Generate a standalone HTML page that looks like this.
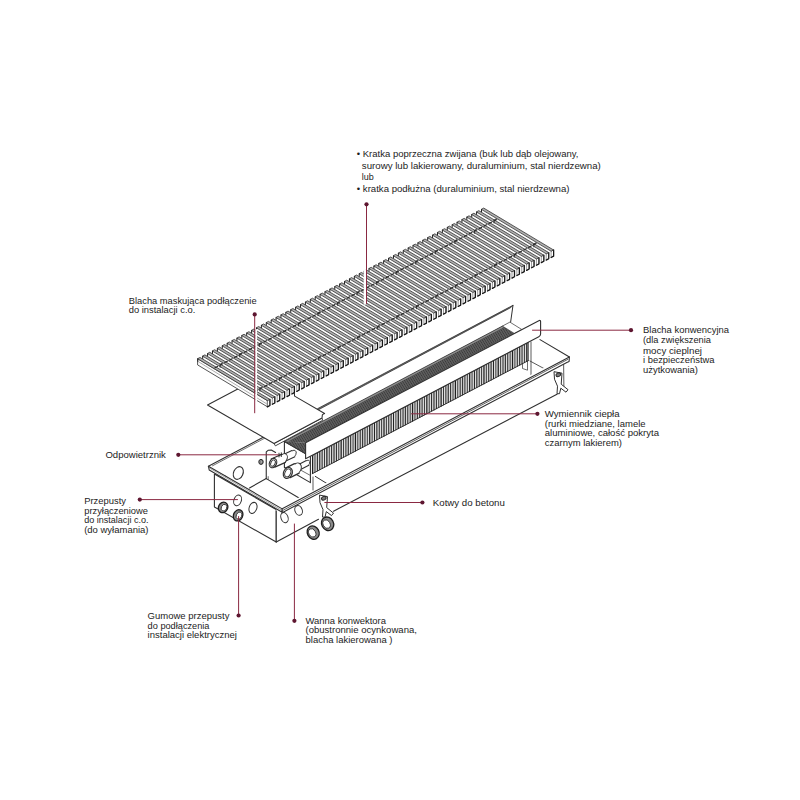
<!DOCTYPE html>
<html><head><meta charset="utf-8"><title>Konwektor kanałowy</title>
<style>
html,body{margin:0;padding:0;background:#fff;}
body{width:800px;height:800px;overflow:hidden;font-family:"Liberation Sans",sans-serif;}
svg{display:block;}
svg text{font-family:"Liberation Sans",sans-serif;fill:#1c1c1c;}
</style></head><body>
<svg width="800" height="800" viewBox="0 0 800 800">
<g id="trough">
<line x1="208.40" y1="466.20" x2="278.40" y2="429.17" stroke="#303030" stroke-width="1.1" stroke-linecap="round" />
<line x1="212.50" y1="465.80" x2="280.00" y2="430.09" stroke="#303030" stroke-width="0.7" stroke-linecap="round" />
<ellipse cx="238.30" cy="473.00" rx="4.70" ry="6.60" fill="#fff" stroke="#303030" stroke-width="1.1" transform="rotate(24.0 238.30 473.00)"/>
<path d="M221.5 478.2 q2.2 -3.6 5.2 -1.2" fill="none" stroke="#222" stroke-width="1.3"/>
<polyline points="266.25,478.60 266.25,451.90 268.10,450.30 271.30,450.00 275.60,452.40" fill="none" stroke="#303030" stroke-width="1.1" stroke-linejoin="round" stroke-linecap="round" />
<line x1="266.25" y1="478.60" x2="300.30" y2="498.70" stroke="#303030" stroke-width="1.1" stroke-linecap="round" />
<line x1="315.30" y1="476.40" x2="328.00" y2="484.20" stroke="#303030" stroke-width="1.0" stroke-linecap="round" />
<line x1="266.25" y1="478.60" x2="249.50" y2="488.00" stroke="#303030" stroke-width="1.1" stroke-linecap="round" />
<line x1="268.20" y1="476.60" x2="268.20" y2="479.40" stroke="#303030" stroke-width="0.7" stroke-linecap="round" />
<ellipse cx="261.00" cy="461.90" rx="2.20" ry="2.50" fill="#999" stroke="#222" stroke-width="1.0"/>
<ellipse cx="261.20" cy="461.90" rx="0.80" ry="1.00" fill="#fff" stroke="#222" stroke-width="0.4"/>
<line x1="531.00" y1="342.00" x2="531.00" y2="376.00" stroke="#303030" stroke-width="0.8" stroke-linecap="round" />
<line x1="530.00" y1="361.00" x2="545.20" y2="369.20" stroke="#303030" stroke-width="0.8" stroke-linecap="round" />
<polyline points="522.50,363.50 522.50,368.50 527.50,370.20 527.50,360.50" fill="none" stroke="#303030" stroke-width="0.7" stroke-linejoin="round" stroke-linecap="round" />
<polygon points="214.40,474.00 276.25,509.60 276.25,542.00 214.40,506.90" fill="#fff" stroke="#303030" stroke-width="1.1" stroke-linejoin="round" />
<polygon points="276.25,509.60 563.50,357.50 563.50,390.00 557.00,394.20 276.25,542.00" fill="#fff" stroke="none" stroke-width="0.7" stroke-linejoin="round" />
<line x1="276.25" y1="542.00" x2="318.50" y2="519.30" stroke="#303030" stroke-width="1.1" stroke-linecap="round" />
<line x1="333.50" y1="511.20" x2="557.00" y2="394.20" stroke="#303030" stroke-width="1.1" stroke-linecap="round" />
<line x1="276.25" y1="511.00" x2="276.25" y2="542.00" stroke="#303030" stroke-width="1.1" stroke-linecap="round" />
<line x1="563.60" y1="362.00" x2="563.90" y2="388.00" stroke="#303030" stroke-width="0.8" stroke-linecap="round" />
<polygon points="208.40,466.20 282.20,508.86 282.20,512.26 209.20,470.00" fill="#fff" stroke="#303030" stroke-width="1.1" stroke-linejoin="round" />
<line x1="209.20" y1="467.90" x2="282.20" y2="510.56" stroke="#6a6a6a" stroke-width="0.6" stroke-linecap="round" />
<polygon points="282.20,508.86 569.40,356.93 569.10,361.53 566.80,362.53 282.20,512.66" fill="#fff" stroke="#303030" stroke-width="1.1" stroke-linejoin="round" />
<line x1="283.00" y1="510.33" x2="567.90" y2="359.33" stroke="#303030" stroke-width="0.75" stroke-linecap="round" />
<line x1="569.40" y1="356.93" x2="540.00" y2="339.60" stroke="#303030" stroke-width="1.1" stroke-linecap="round" />
<ellipse cx="237.60" cy="500.40" rx="3.70" ry="5.50" fill="#fff" stroke="#303030" stroke-width="1.0" transform="rotate(20.0 237.60 500.40)"/>
<ellipse cx="253.00" cy="507.90" rx="3.80" ry="5.70" fill="#fff" stroke="#303030" stroke-width="1.0" transform="rotate(20.0 253.00 507.90)"/>
<ellipse cx="223.10" cy="507.40" rx="4.60" ry="5.40" fill="#8a8a8a" stroke="#1e1e1e" stroke-width="1.3" transform="rotate(25.0 223.10 507.40)"/><ellipse cx="224.00" cy="507.70" rx="2.67" ry="3.46" fill="#fff" stroke="#2a2a2a" stroke-width="0.8" transform="rotate(25.0 224.00 507.70)"/>
<ellipse cx="238.10" cy="515.30" rx="4.60" ry="5.80" fill="#8a8a8a" stroke="#1e1e1e" stroke-width="1.3" transform="rotate(25.0 238.10 515.30)"/><ellipse cx="239.00" cy="515.60" rx="2.67" ry="3.71" fill="#fff" stroke="#2a2a2a" stroke-width="0.8" transform="rotate(25.0 239.00 515.60)"/>
<ellipse cx="284.50" cy="517.60" rx="3.50" ry="5.20" fill="#fff" stroke="#303030" stroke-width="1.0" transform="rotate(-20.0 284.50 517.60)"/>
<ellipse cx="298.60" cy="510.40" rx="3.60" ry="5.00" fill="#fff" stroke="#303030" stroke-width="1.0" transform="rotate(-20.0 298.60 510.40)"/>
<ellipse cx="313.20" cy="532.60" rx="5.80" ry="6.90" fill="#8a8a8a" stroke="#1e1e1e" stroke-width="1.3" transform="rotate(-28.0 313.20 532.60)"/><ellipse cx="312.20" cy="532.90" rx="3.36" ry="4.42" fill="#fff" stroke="#2a2a2a" stroke-width="0.8" transform="rotate(-28.0 312.20 532.90)"/>
<ellipse cx="327.60" cy="523.80" rx="5.90" ry="7.00" fill="#8a8a8a" stroke="#1e1e1e" stroke-width="1.3" transform="rotate(-28.0 327.60 523.80)"/><ellipse cx="326.60" cy="524.10" rx="3.42" ry="4.48" fill="#fff" stroke="#2a2a2a" stroke-width="0.8" transform="rotate(-28.0 326.60 524.10)"/>
<polygon points="319.50,495.10 327.50,496.60 326.70,507.60 333.50,513.10 331.50,515.60 326.30,511.60 325.00,517.10 322.50,517.10 323.00,509.60 320.00,502.60" fill="#fff" stroke="#303030" stroke-width="1.0" stroke-linejoin="round" /><ellipse cx="323.80" cy="498.20" rx="2.40" ry="1.80" fill="#777" stroke="#222" stroke-width="0.9" transform="rotate(-25.0 323.80 498.20)"/>
<polygon points="554.00,371.70 562.00,373.20 561.20,384.20 568.00,389.70 566.00,392.20 560.80,388.20 559.50,393.70 557.00,393.70 557.50,386.20 554.50,379.20" fill="#fff" stroke="#303030" stroke-width="1.0" stroke-linejoin="round" /><ellipse cx="558.30" cy="374.80" rx="2.40" ry="1.80" fill="#777" stroke="#222" stroke-width="0.9" transform="rotate(-25.0 558.30 374.80)"/>
</g>
<g id="exch">
<polygon points="317.50,408.70 513.00,305.28 510.60,322.28 315.10,425.70" fill="#fff" stroke="none" stroke-width="0.7" stroke-linejoin="round" />
<line x1="513.00" y1="305.28" x2="510.60" y2="322.28" stroke="#303030" stroke-width="1.0" stroke-linecap="round" />
<polygon points="317.50,408.70 513.00,305.28 510.80,307.58 315.90,411.10" fill="#6e6e6e" stroke="#2a2a2a" stroke-width="0.75" stroke-linejoin="round" />
<clipPath id="cpTop"><polygon points="284.40,441.40 502.40,326.08 514.40,333.49 305.60,442.80"/></clipPath>
<polygon points="284.40,441.40 502.40,326.08 514.40,333.49 305.60,442.80" fill="#909090" stroke="none" stroke-width="0.7" stroke-linejoin="round" />
<g clip-path="url(#cpTop)">
<line x1="282.40" y1="442.46" x2="516.40" y2="318.67" stroke="#262626" stroke-width="0.8" stroke-linecap="round" />
<line x1="283.60" y1="443.15" x2="517.60" y2="319.37" stroke="#262626" stroke-width="0.8" stroke-linecap="round" />
<line x1="284.80" y1="443.85" x2="518.80" y2="320.06" stroke="#262626" stroke-width="0.8" stroke-linecap="round" />
<line x1="286.00" y1="444.54" x2="520.00" y2="320.75" stroke="#262626" stroke-width="0.8" stroke-linecap="round" />
<line x1="287.20" y1="445.23" x2="521.20" y2="321.45" stroke="#262626" stroke-width="0.8" stroke-linecap="round" />
<line x1="288.40" y1="445.93" x2="522.40" y2="322.14" stroke="#262626" stroke-width="0.8" stroke-linecap="round" />
<line x1="289.60" y1="446.62" x2="523.60" y2="322.83" stroke="#262626" stroke-width="0.8" stroke-linecap="round" />
<line x1="290.80" y1="447.31" x2="524.80" y2="323.53" stroke="#262626" stroke-width="0.8" stroke-linecap="round" />
<line x1="292.00" y1="448.01" x2="526.00" y2="324.22" stroke="#262626" stroke-width="0.8" stroke-linecap="round" />
<line x1="293.20" y1="448.70" x2="527.20" y2="324.91" stroke="#262626" stroke-width="0.8" stroke-linecap="round" />
<line x1="294.40" y1="449.39" x2="528.40" y2="325.61" stroke="#262626" stroke-width="0.8" stroke-linecap="round" />
<line x1="295.60" y1="450.09" x2="529.60" y2="326.30" stroke="#262626" stroke-width="0.8" stroke-linecap="round" />
<line x1="296.80" y1="450.78" x2="530.80" y2="327.00" stroke="#262626" stroke-width="0.8" stroke-linecap="round" />
</g>
<line x1="285.90" y1="441.60" x2="502.40" y2="327.08" stroke="#8e8e8e" stroke-width="1.5" stroke-linecap="round" stroke-linecap="butt"/>
<polyline points="284.40,441.40 502.40,326.08" fill="none" stroke="#333" stroke-width="0.7" stroke-linejoin="round" stroke-linecap="round" />
<polygon points="502.40,326.08 509.90,322.11 521.90,329.57 514.40,333.49" fill="#fff" stroke="#303030" stroke-width="0.7" stroke-linejoin="round" />
<polygon points="284.40,441.40 310.40,456.43 310.40,482.63 284.40,467.60" fill="#fff" stroke="#303030" stroke-width="1.1" stroke-linejoin="round" />
<polygon points="284.40,441.40 305.60,442.80 305.60,453.65" fill="#909090" stroke="none" stroke-width="0.7" stroke-linejoin="round" />
<clipPath id="cpTri"><polygon points="284.40,441.40 305.60,442.80 305.60,453.65"/></clipPath>
<g clip-path="url(#cpTri)">
<line x1="282.40" y1="442.46" x2="314.40" y2="425.53" stroke="#262626" stroke-width="0.8" stroke-linecap="round" />
<line x1="283.60" y1="443.15" x2="315.60" y2="426.22" stroke="#262626" stroke-width="0.8" stroke-linecap="round" />
<line x1="284.80" y1="443.85" x2="316.80" y2="426.92" stroke="#262626" stroke-width="0.8" stroke-linecap="round" />
<line x1="286.00" y1="444.54" x2="318.00" y2="427.61" stroke="#262626" stroke-width="0.8" stroke-linecap="round" />
<line x1="287.20" y1="445.23" x2="319.20" y2="428.30" stroke="#262626" stroke-width="0.8" stroke-linecap="round" />
<line x1="288.40" y1="445.93" x2="320.40" y2="429.00" stroke="#262626" stroke-width="0.8" stroke-linecap="round" />
<line x1="289.60" y1="446.62" x2="321.60" y2="429.69" stroke="#262626" stroke-width="0.8" stroke-linecap="round" />
<line x1="290.80" y1="447.31" x2="322.80" y2="430.39" stroke="#262626" stroke-width="0.8" stroke-linecap="round" />
<line x1="292.00" y1="448.01" x2="324.00" y2="431.08" stroke="#262626" stroke-width="0.8" stroke-linecap="round" />
<line x1="293.20" y1="448.70" x2="325.20" y2="431.77" stroke="#262626" stroke-width="0.8" stroke-linecap="round" />
<line x1="294.40" y1="449.39" x2="326.40" y2="432.47" stroke="#262626" stroke-width="0.8" stroke-linecap="round" />
<line x1="295.60" y1="450.09" x2="327.60" y2="433.16" stroke="#262626" stroke-width="0.8" stroke-linecap="round" />
<line x1="296.80" y1="450.78" x2="328.80" y2="433.85" stroke="#262626" stroke-width="0.8" stroke-linecap="round" />
<line x1="298.00" y1="451.47" x2="330.00" y2="434.55" stroke="#262626" stroke-width="0.8" stroke-linecap="round" />
<line x1="299.20" y1="452.17" x2="331.20" y2="435.24" stroke="#262626" stroke-width="0.8" stroke-linecap="round" />
<line x1="300.40" y1="452.86" x2="332.40" y2="435.93" stroke="#262626" stroke-width="0.8" stroke-linecap="round" />
<line x1="301.60" y1="453.56" x2="333.60" y2="436.63" stroke="#262626" stroke-width="0.8" stroke-linecap="round" />
<line x1="302.80" y1="454.25" x2="334.80" y2="437.32" stroke="#262626" stroke-width="0.8" stroke-linecap="round" />
</g>
<line x1="284.40" y1="441.40" x2="310.40" y2="456.43" stroke="#303030" stroke-width="0.9" stroke-linecap="round" />
<polyline points="313.00,477.00 313.00,490.00" fill="none" stroke="#303030" stroke-width="0.8" stroke-linejoin="round" stroke-linecap="round" />
<polyline points="300.50,470.00 309.60,475.00" fill="none" stroke="#303030" stroke-width="0.7" stroke-linejoin="round" stroke-linecap="round" />
<polygon points="312.20,455.34 528.20,342.27 528.20,360.67 312.20,473.74" fill="#dedede" stroke="none" stroke-width="0.7" stroke-linejoin="round" />
<line x1="312.60" y1="455.34" x2="312.60" y2="473.34" stroke="#1e1e1e" stroke-width="1.25" stroke-linecap="round" stroke-linecap="butt"/>
<line x1="314.98" y1="454.09" x2="314.98" y2="472.09" stroke="#383838" stroke-width="1.0" stroke-linecap="round" stroke-linecap="butt"/>
<line x1="317.36" y1="452.84" x2="317.36" y2="470.84" stroke="#1e1e1e" stroke-width="1.0" stroke-linecap="round" stroke-linecap="butt"/>
<line x1="319.74" y1="451.60" x2="319.74" y2="469.60" stroke="#383838" stroke-width="1.25" stroke-linecap="round" stroke-linecap="butt"/>
<line x1="322.12" y1="450.35" x2="322.12" y2="468.35" stroke="#1e1e1e" stroke-width="1.0" stroke-linecap="round" stroke-linecap="butt"/>
<line x1="324.50" y1="449.11" x2="324.50" y2="467.11" stroke="#383838" stroke-width="1.0" stroke-linecap="round" stroke-linecap="butt"/>
<line x1="326.88" y1="447.86" x2="326.88" y2="465.86" stroke="#1e1e1e" stroke-width="1.25" stroke-linecap="round" stroke-linecap="butt"/>
<line x1="329.26" y1="446.61" x2="329.26" y2="464.61" stroke="#383838" stroke-width="1.0" stroke-linecap="round" stroke-linecap="butt"/>
<line x1="331.64" y1="445.37" x2="331.64" y2="463.37" stroke="#1e1e1e" stroke-width="1.0" stroke-linecap="round" stroke-linecap="butt"/>
<line x1="334.02" y1="444.12" x2="334.02" y2="462.12" stroke="#383838" stroke-width="1.25" stroke-linecap="round" stroke-linecap="butt"/>
<line x1="336.40" y1="442.88" x2="336.40" y2="460.88" stroke="#1e1e1e" stroke-width="1.0" stroke-linecap="round" stroke-linecap="butt"/>
<line x1="338.78" y1="441.63" x2="338.78" y2="459.63" stroke="#383838" stroke-width="1.0" stroke-linecap="round" stroke-linecap="butt"/>
<line x1="341.16" y1="440.38" x2="341.16" y2="458.38" stroke="#1e1e1e" stroke-width="1.25" stroke-linecap="round" stroke-linecap="butt"/>
<line x1="343.54" y1="439.14" x2="343.54" y2="457.14" stroke="#383838" stroke-width="1.0" stroke-linecap="round" stroke-linecap="butt"/>
<line x1="345.92" y1="437.89" x2="345.92" y2="455.89" stroke="#1e1e1e" stroke-width="1.0" stroke-linecap="round" stroke-linecap="butt"/>
<line x1="348.30" y1="436.65" x2="348.30" y2="454.65" stroke="#383838" stroke-width="1.25" stroke-linecap="round" stroke-linecap="butt"/>
<line x1="350.68" y1="435.40" x2="350.68" y2="453.40" stroke="#1e1e1e" stroke-width="1.0" stroke-linecap="round" stroke-linecap="butt"/>
<line x1="353.06" y1="434.15" x2="353.06" y2="452.15" stroke="#383838" stroke-width="1.0" stroke-linecap="round" stroke-linecap="butt"/>
<line x1="355.44" y1="432.91" x2="355.44" y2="450.91" stroke="#1e1e1e" stroke-width="1.25" stroke-linecap="round" stroke-linecap="butt"/>
<line x1="357.82" y1="431.66" x2="357.82" y2="449.66" stroke="#383838" stroke-width="1.0" stroke-linecap="round" stroke-linecap="butt"/>
<line x1="360.20" y1="430.42" x2="360.20" y2="448.42" stroke="#1e1e1e" stroke-width="1.0" stroke-linecap="round" stroke-linecap="butt"/>
<line x1="362.58" y1="429.17" x2="362.58" y2="447.17" stroke="#383838" stroke-width="1.25" stroke-linecap="round" stroke-linecap="butt"/>
<line x1="364.96" y1="427.93" x2="364.96" y2="445.93" stroke="#1e1e1e" stroke-width="1.0" stroke-linecap="round" stroke-linecap="butt"/>
<line x1="367.34" y1="426.68" x2="367.34" y2="444.68" stroke="#383838" stroke-width="1.0" stroke-linecap="round" stroke-linecap="butt"/>
<line x1="369.72" y1="425.43" x2="369.72" y2="443.43" stroke="#1e1e1e" stroke-width="1.25" stroke-linecap="round" stroke-linecap="butt"/>
<line x1="372.10" y1="424.19" x2="372.10" y2="442.19" stroke="#383838" stroke-width="1.0" stroke-linecap="round" stroke-linecap="butt"/>
<line x1="374.48" y1="422.94" x2="374.48" y2="440.94" stroke="#1e1e1e" stroke-width="1.0" stroke-linecap="round" stroke-linecap="butt"/>
<line x1="376.86" y1="421.70" x2="376.86" y2="439.70" stroke="#383838" stroke-width="1.25" stroke-linecap="round" stroke-linecap="butt"/>
<line x1="379.24" y1="420.45" x2="379.24" y2="438.45" stroke="#1e1e1e" stroke-width="1.0" stroke-linecap="round" stroke-linecap="butt"/>
<line x1="381.62" y1="419.20" x2="381.62" y2="437.20" stroke="#383838" stroke-width="1.0" stroke-linecap="round" stroke-linecap="butt"/>
<line x1="384.00" y1="417.96" x2="384.00" y2="435.96" stroke="#1e1e1e" stroke-width="1.25" stroke-linecap="round" stroke-linecap="butt"/>
<line x1="386.38" y1="416.71" x2="386.38" y2="434.71" stroke="#383838" stroke-width="1.0" stroke-linecap="round" stroke-linecap="butt"/>
<line x1="388.76" y1="415.47" x2="388.76" y2="433.47" stroke="#1e1e1e" stroke-width="1.0" stroke-linecap="round" stroke-linecap="butt"/>
<line x1="391.14" y1="414.22" x2="391.14" y2="432.22" stroke="#383838" stroke-width="1.25" stroke-linecap="round" stroke-linecap="butt"/>
<line x1="393.52" y1="412.97" x2="393.52" y2="430.97" stroke="#1e1e1e" stroke-width="1.0" stroke-linecap="round" stroke-linecap="butt"/>
<line x1="395.90" y1="411.73" x2="395.90" y2="429.73" stroke="#383838" stroke-width="1.0" stroke-linecap="round" stroke-linecap="butt"/>
<line x1="398.28" y1="410.48" x2="398.28" y2="428.48" stroke="#1e1e1e" stroke-width="1.25" stroke-linecap="round" stroke-linecap="butt"/>
<line x1="400.66" y1="409.24" x2="400.66" y2="427.24" stroke="#383838" stroke-width="1.0" stroke-linecap="round" stroke-linecap="butt"/>
<line x1="403.04" y1="407.99" x2="403.04" y2="425.99" stroke="#1e1e1e" stroke-width="1.0" stroke-linecap="round" stroke-linecap="butt"/>
<line x1="405.42" y1="406.74" x2="405.42" y2="424.74" stroke="#383838" stroke-width="1.25" stroke-linecap="round" stroke-linecap="butt"/>
<line x1="407.80" y1="405.50" x2="407.80" y2="423.50" stroke="#1e1e1e" stroke-width="1.0" stroke-linecap="round" stroke-linecap="butt"/>
<line x1="410.18" y1="404.25" x2="410.18" y2="422.25" stroke="#383838" stroke-width="1.0" stroke-linecap="round" stroke-linecap="butt"/>
<line x1="412.56" y1="403.01" x2="412.56" y2="421.01" stroke="#1e1e1e" stroke-width="1.25" stroke-linecap="round" stroke-linecap="butt"/>
<line x1="414.94" y1="401.76" x2="414.94" y2="419.76" stroke="#383838" stroke-width="1.0" stroke-linecap="round" stroke-linecap="butt"/>
<line x1="417.32" y1="400.51" x2="417.32" y2="418.51" stroke="#1e1e1e" stroke-width="1.0" stroke-linecap="round" stroke-linecap="butt"/>
<line x1="419.70" y1="399.27" x2="419.70" y2="417.27" stroke="#383838" stroke-width="1.25" stroke-linecap="round" stroke-linecap="butt"/>
<line x1="422.08" y1="398.02" x2="422.08" y2="416.02" stroke="#1e1e1e" stroke-width="1.0" stroke-linecap="round" stroke-linecap="butt"/>
<line x1="424.46" y1="396.78" x2="424.46" y2="414.78" stroke="#383838" stroke-width="1.0" stroke-linecap="round" stroke-linecap="butt"/>
<line x1="426.84" y1="395.53" x2="426.84" y2="413.53" stroke="#1e1e1e" stroke-width="1.25" stroke-linecap="round" stroke-linecap="butt"/>
<line x1="429.22" y1="394.28" x2="429.22" y2="412.28" stroke="#383838" stroke-width="1.0" stroke-linecap="round" stroke-linecap="butt"/>
<line x1="431.60" y1="393.04" x2="431.60" y2="411.04" stroke="#1e1e1e" stroke-width="1.0" stroke-linecap="round" stroke-linecap="butt"/>
<line x1="433.98" y1="391.79" x2="433.98" y2="409.79" stroke="#383838" stroke-width="1.25" stroke-linecap="round" stroke-linecap="butt"/>
<line x1="436.36" y1="390.55" x2="436.36" y2="408.55" stroke="#1e1e1e" stroke-width="1.0" stroke-linecap="round" stroke-linecap="butt"/>
<line x1="438.74" y1="389.30" x2="438.74" y2="407.30" stroke="#383838" stroke-width="1.0" stroke-linecap="round" stroke-linecap="butt"/>
<line x1="441.12" y1="388.06" x2="441.12" y2="406.06" stroke="#1e1e1e" stroke-width="1.25" stroke-linecap="round" stroke-linecap="butt"/>
<line x1="443.50" y1="386.81" x2="443.50" y2="404.81" stroke="#383838" stroke-width="1.0" stroke-linecap="round" stroke-linecap="butt"/>
<line x1="445.88" y1="385.56" x2="445.88" y2="403.56" stroke="#1e1e1e" stroke-width="1.0" stroke-linecap="round" stroke-linecap="butt"/>
<line x1="448.26" y1="384.32" x2="448.26" y2="402.32" stroke="#383838" stroke-width="1.25" stroke-linecap="round" stroke-linecap="butt"/>
<line x1="450.64" y1="383.07" x2="450.64" y2="401.07" stroke="#1e1e1e" stroke-width="1.0" stroke-linecap="round" stroke-linecap="butt"/>
<line x1="453.02" y1="381.83" x2="453.02" y2="399.83" stroke="#383838" stroke-width="1.0" stroke-linecap="round" stroke-linecap="butt"/>
<line x1="455.40" y1="380.58" x2="455.40" y2="398.58" stroke="#1e1e1e" stroke-width="1.25" stroke-linecap="round" stroke-linecap="butt"/>
<line x1="457.78" y1="379.33" x2="457.78" y2="397.33" stroke="#383838" stroke-width="1.0" stroke-linecap="round" stroke-linecap="butt"/>
<line x1="460.16" y1="378.09" x2="460.16" y2="396.09" stroke="#1e1e1e" stroke-width="1.0" stroke-linecap="round" stroke-linecap="butt"/>
<line x1="462.54" y1="376.84" x2="462.54" y2="394.84" stroke="#383838" stroke-width="1.25" stroke-linecap="round" stroke-linecap="butt"/>
<line x1="464.92" y1="375.60" x2="464.92" y2="393.60" stroke="#1e1e1e" stroke-width="1.0" stroke-linecap="round" stroke-linecap="butt"/>
<line x1="467.30" y1="374.35" x2="467.30" y2="392.35" stroke="#383838" stroke-width="1.0" stroke-linecap="round" stroke-linecap="butt"/>
<line x1="469.68" y1="373.10" x2="469.68" y2="391.10" stroke="#1e1e1e" stroke-width="1.25" stroke-linecap="round" stroke-linecap="butt"/>
<line x1="472.06" y1="371.86" x2="472.06" y2="389.86" stroke="#383838" stroke-width="1.0" stroke-linecap="round" stroke-linecap="butt"/>
<line x1="474.44" y1="370.61" x2="474.44" y2="388.61" stroke="#1e1e1e" stroke-width="1.0" stroke-linecap="round" stroke-linecap="butt"/>
<line x1="476.82" y1="369.37" x2="476.82" y2="387.37" stroke="#383838" stroke-width="1.25" stroke-linecap="round" stroke-linecap="butt"/>
<line x1="479.20" y1="368.12" x2="479.20" y2="386.12" stroke="#1e1e1e" stroke-width="1.0" stroke-linecap="round" stroke-linecap="butt"/>
<line x1="481.58" y1="366.87" x2="481.58" y2="384.87" stroke="#383838" stroke-width="1.0" stroke-linecap="round" stroke-linecap="butt"/>
<line x1="483.96" y1="365.63" x2="483.96" y2="383.63" stroke="#1e1e1e" stroke-width="1.25" stroke-linecap="round" stroke-linecap="butt"/>
<line x1="486.34" y1="364.38" x2="486.34" y2="382.38" stroke="#383838" stroke-width="1.0" stroke-linecap="round" stroke-linecap="butt"/>
<line x1="488.72" y1="363.14" x2="488.72" y2="381.14" stroke="#1e1e1e" stroke-width="1.0" stroke-linecap="round" stroke-linecap="butt"/>
<line x1="491.10" y1="361.89" x2="491.10" y2="379.89" stroke="#383838" stroke-width="1.25" stroke-linecap="round" stroke-linecap="butt"/>
<line x1="493.48" y1="360.64" x2="493.48" y2="378.64" stroke="#1e1e1e" stroke-width="1.0" stroke-linecap="round" stroke-linecap="butt"/>
<line x1="495.86" y1="359.40" x2="495.86" y2="377.40" stroke="#383838" stroke-width="1.0" stroke-linecap="round" stroke-linecap="butt"/>
<line x1="498.24" y1="358.15" x2="498.24" y2="376.15" stroke="#1e1e1e" stroke-width="1.25" stroke-linecap="round" stroke-linecap="butt"/>
<line x1="500.62" y1="356.91" x2="500.62" y2="374.91" stroke="#383838" stroke-width="1.0" stroke-linecap="round" stroke-linecap="butt"/>
<line x1="503.00" y1="355.66" x2="503.00" y2="373.66" stroke="#1e1e1e" stroke-width="1.0" stroke-linecap="round" stroke-linecap="butt"/>
<line x1="505.38" y1="354.42" x2="505.38" y2="372.42" stroke="#383838" stroke-width="1.25" stroke-linecap="round" stroke-linecap="butt"/>
<line x1="507.76" y1="353.17" x2="507.76" y2="371.17" stroke="#1e1e1e" stroke-width="1.0" stroke-linecap="round" stroke-linecap="butt"/>
<line x1="510.14" y1="351.92" x2="510.14" y2="369.92" stroke="#383838" stroke-width="1.0" stroke-linecap="round" stroke-linecap="butt"/>
<line x1="512.52" y1="350.68" x2="512.52" y2="368.68" stroke="#1e1e1e" stroke-width="1.25" stroke-linecap="round" stroke-linecap="butt"/>
<line x1="514.90" y1="349.43" x2="514.90" y2="367.43" stroke="#383838" stroke-width="1.0" stroke-linecap="round" stroke-linecap="butt"/>
<line x1="517.28" y1="348.19" x2="517.28" y2="366.19" stroke="#1e1e1e" stroke-width="1.0" stroke-linecap="round" stroke-linecap="butt"/>
<line x1="519.66" y1="346.94" x2="519.66" y2="364.94" stroke="#383838" stroke-width="1.25" stroke-linecap="round" stroke-linecap="butt"/>
<line x1="522.04" y1="345.69" x2="522.04" y2="363.69" stroke="#1e1e1e" stroke-width="1.0" stroke-linecap="round" stroke-linecap="butt"/>
<line x1="524.42" y1="344.45" x2="524.42" y2="362.45" stroke="#383838" stroke-width="1.0" stroke-linecap="round" stroke-linecap="butt"/>
<line x1="526.80" y1="343.20" x2="526.80" y2="361.20" stroke="#1e1e1e" stroke-width="1.25" stroke-linecap="round" stroke-linecap="butt"/>
<polyline points="312.20,455.34 528.20,342.27" fill="none" stroke="#222" stroke-width="0.9" stroke-linejoin="round" stroke-linecap="round" />
<polyline points="312.20,473.74 528.20,360.67" fill="none" stroke="#222" stroke-width="0.9" stroke-linejoin="round" stroke-linecap="round" />
<line x1="528.20" y1="342.27" x2="528.20" y2="360.67" stroke="#222" stroke-width="0.9" stroke-linecap="round" />
<path d="M305.60 442.80 L538.80 320.68 Q540.60 319.78 540.60 321.58 L540.60 333.98 Q540.60 335.78 538.80 336.68 L305.60 458.80 Z" fill="#fff" stroke="#303030" stroke-width="1.1" stroke-linejoin="round"/>
<ellipse cx="293.40" cy="453.70" rx="2.60" ry="3.70" fill="#fff" stroke="#303030" stroke-width="0.8400000000000001" transform="rotate(24.0 293.40 453.70)"/><polygon points="291.94,450.58 276.54,457.78 279.46,464.02 294.86,456.82" fill="#fff" stroke="none" stroke-width="0.7" stroke-linejoin="round" /><line x1="291.94" y1="450.58" x2="276.54" y2="457.78" stroke="#303030" stroke-width="1.05" stroke-linecap="round" /><line x1="294.86" y1="456.82" x2="279.46" y2="464.02" stroke="#303030" stroke-width="1.05" stroke-linecap="round" /><ellipse cx="278.00" cy="460.90" rx="2.60" ry="3.70" fill="#fff" stroke="#303030" stroke-width="1.05" transform="rotate(24.0 278.00 460.90)"/>
<ellipse cx="283.60" cy="458.30" rx="3.50" ry="4.80" fill="#fff" stroke="#303030" stroke-width="0.96" transform="rotate(24.0 283.60 458.30)"/><polygon points="281.76,454.23 271.16,459.03 274.84,467.17 285.44,462.37" fill="#fff" stroke="none" stroke-width="0.7" stroke-linejoin="round" /><line x1="281.76" y1="454.23" x2="271.16" y2="459.03" stroke="#303030" stroke-width="1.2" stroke-linecap="round" /><line x1="285.44" y1="462.37" x2="274.84" y2="467.17" stroke="#303030" stroke-width="1.2" stroke-linecap="round" /><ellipse cx="273.00" cy="463.10" rx="3.50" ry="4.80" fill="#fff" stroke="#303030" stroke-width="1.2" transform="rotate(24.0 273.00 463.10)"/>
<ellipse cx="273.00" cy="463.10" rx="2.10" ry="3.30" fill="#fff" stroke="#303030" stroke-width="0.9" transform="rotate(24.0 273.00 463.10)"/>
<polyline points="279.00,453.20 279.00,457.00" fill="none" stroke="#222" stroke-width="0.9" stroke-linejoin="round" stroke-linecap="round" />
<polyline points="281.30,452.80 281.30,456.60" fill="none" stroke="#222" stroke-width="0.9" stroke-linejoin="round" stroke-linecap="round" />
<polyline points="279.00,455.00 281.30,454.80" fill="none" stroke="#222" stroke-width="0.8" stroke-linejoin="round" stroke-linecap="round" />
<ellipse cx="307.60" cy="462.90" rx="2.00" ry="2.90" fill="#fff" stroke="#303030" stroke-width="0.8400000000000001" transform="rotate(24.0 307.60 462.90)"/><polygon points="306.36,460.50 294.76,466.50 297.24,471.30 308.84,465.30" fill="#fff" stroke="none" stroke-width="0.7" stroke-linejoin="round" /><line x1="306.36" y1="460.50" x2="294.76" y2="466.50" stroke="#303030" stroke-width="1.05" stroke-linecap="round" /><line x1="308.84" y1="465.30" x2="297.24" y2="471.30" stroke="#303030" stroke-width="1.05" stroke-linecap="round" /><ellipse cx="296.00" cy="468.90" rx="2.00" ry="2.90" fill="#fff" stroke="#303030" stroke-width="1.05" transform="rotate(24.0 296.00 468.90)"/>
<ellipse cx="296.80" cy="468.40" rx="4.30" ry="5.70" fill="#fff" stroke="#303030" stroke-width="0.96" transform="rotate(24.0 296.80 468.40)"/><polygon points="294.43,463.66 285.43,468.16 290.17,477.64 299.17,473.14" fill="#fff" stroke="none" stroke-width="0.7" stroke-linejoin="round" /><line x1="294.43" y1="463.66" x2="285.43" y2="468.16" stroke="#303030" stroke-width="1.2" stroke-linecap="round" /><line x1="299.17" y1="473.14" x2="290.17" y2="477.64" stroke="#303030" stroke-width="1.2" stroke-linecap="round" /><ellipse cx="287.80" cy="472.90" rx="4.30" ry="5.70" fill="#fff" stroke="#303030" stroke-width="1.2" transform="rotate(24.0 287.80 472.90)"/>
<ellipse cx="287.80" cy="472.90" rx="2.80" ry="4.10" fill="#fff" stroke="#303030" stroke-width="0.9" transform="rotate(24.0 287.80 472.90)"/>
</g>
<g id="mask">
<polygon points="274.00,443.44 322.00,418.05 322.60,420.35 275.40,445.84" fill="#fff" stroke="#303030" stroke-width="0.9" stroke-linejoin="round" />
<polygon points="207.50,405.00 274.00,443.44 322.00,418.05 322.40,414.65 324.60,413.44 294.60,396.11 291.50,360.56" fill="#fff" stroke="#303030" stroke-width="1.05" stroke-linejoin="round" />
</g>
<g id="grille">
<polygon points="481.30,209.33 551.10,251.21 551.10,255.91 481.30,214.03" fill="#fff" stroke="none" stroke-width="0.7" stroke-linejoin="round" />
<polygon points="551.10,251.21 553.50,249.95 553.50,256.15 551.10,257.41" fill="#fff" stroke="#333" stroke-width="0.5" stroke-linejoin="round" />
<polyline points="553.65,249.95 553.65,256.15 551.10,257.51" fill="none" stroke="#161616" stroke-width="1.25" stroke-linejoin="round" stroke-linecap="round" />
<polygon points="481.30,209.33 483.70,208.07 553.50,249.95 551.10,251.21" fill="#b0b0b0" stroke="#2a2a2a" stroke-width="0.75" stroke-linejoin="round" />
<line x1="481.50" y1="209.53" x2="481.50" y2="211.93" stroke="#1e1e1e" stroke-width="1.0" stroke-linecap="round" />
<polygon points="476.41,211.91 546.21,253.79 546.21,258.49 476.41,216.61" fill="#fff" stroke="none" stroke-width="0.7" stroke-linejoin="round" />
<polygon points="546.21,253.79 548.61,252.52 548.61,258.72 546.21,259.99" fill="#fff" stroke="#333" stroke-width="0.5" stroke-linejoin="round" />
<polyline points="548.76,252.52 548.76,258.72 546.21,260.09" fill="none" stroke="#161616" stroke-width="1.25" stroke-linejoin="round" stroke-linecap="round" />
<polygon points="476.41,211.91 478.81,210.64 548.61,252.52 546.21,253.79" fill="#b0b0b0" stroke="#2a2a2a" stroke-width="0.75" stroke-linejoin="round" />
<line x1="476.61" y1="212.11" x2="476.61" y2="214.51" stroke="#1e1e1e" stroke-width="1.0" stroke-linecap="round" />
<polygon points="471.52,214.48 541.32,256.36 541.32,261.06 471.52,219.18" fill="#fff" stroke="none" stroke-width="0.7" stroke-linejoin="round" />
<polygon points="541.32,256.36 543.72,255.10 543.72,261.30 541.32,262.56" fill="#fff" stroke="#333" stroke-width="0.5" stroke-linejoin="round" />
<polyline points="543.87,255.10 543.87,261.30 541.32,262.66" fill="none" stroke="#161616" stroke-width="1.25" stroke-linejoin="round" stroke-linecap="round" />
<polygon points="471.52,214.48 473.92,213.22 543.72,255.10 541.32,256.36" fill="#b0b0b0" stroke="#2a2a2a" stroke-width="0.75" stroke-linejoin="round" />
<line x1="471.72" y1="214.68" x2="471.72" y2="217.08" stroke="#1e1e1e" stroke-width="1.0" stroke-linecap="round" />
<polygon points="466.63,217.06 536.43,258.94 536.43,263.64 466.63,221.76" fill="#fff" stroke="none" stroke-width="0.7" stroke-linejoin="round" />
<polygon points="536.43,258.94 538.83,257.67 538.83,263.87 536.43,265.14" fill="#fff" stroke="#333" stroke-width="0.5" stroke-linejoin="round" />
<polyline points="538.98,257.67 538.98,263.87 536.43,265.24" fill="none" stroke="#161616" stroke-width="1.25" stroke-linejoin="round" stroke-linecap="round" />
<polygon points="466.63,217.06 469.03,215.79 538.83,257.67 536.43,258.94" fill="#b0b0b0" stroke="#2a2a2a" stroke-width="0.75" stroke-linejoin="round" />
<line x1="466.83" y1="217.26" x2="466.83" y2="219.66" stroke="#1e1e1e" stroke-width="1.0" stroke-linecap="round" />
<polygon points="461.73,219.63 531.53,261.51 531.53,266.21 461.73,224.33" fill="#fff" stroke="none" stroke-width="0.7" stroke-linejoin="round" />
<polygon points="531.53,261.51 533.93,260.25 533.93,266.45 531.53,267.71" fill="#fff" stroke="#333" stroke-width="0.5" stroke-linejoin="round" />
<polyline points="534.08,260.25 534.08,266.45 531.53,267.81" fill="none" stroke="#161616" stroke-width="1.25" stroke-linejoin="round" stroke-linecap="round" />
<polygon points="461.73,219.63 464.13,218.37 533.93,260.25 531.53,261.51" fill="#b0b0b0" stroke="#2a2a2a" stroke-width="0.75" stroke-linejoin="round" />
<line x1="461.93" y1="219.83" x2="461.93" y2="222.23" stroke="#1e1e1e" stroke-width="1.0" stroke-linecap="round" />
<polygon points="456.84,222.21 526.64,264.09 526.64,268.79 456.84,226.91" fill="#fff" stroke="none" stroke-width="0.7" stroke-linejoin="round" />
<polygon points="526.64,264.09 529.04,262.82 529.04,269.02 526.64,270.29" fill="#fff" stroke="#333" stroke-width="0.5" stroke-linejoin="round" />
<polyline points="529.19,262.82 529.19,269.02 526.64,270.39" fill="none" stroke="#161616" stroke-width="1.25" stroke-linejoin="round" stroke-linecap="round" />
<polygon points="456.84,222.21 459.24,220.94 529.04,262.82 526.64,264.09" fill="#b0b0b0" stroke="#2a2a2a" stroke-width="0.75" stroke-linejoin="round" />
<line x1="457.04" y1="222.41" x2="457.04" y2="224.81" stroke="#1e1e1e" stroke-width="1.0" stroke-linecap="round" />
<polygon points="451.95,224.78 521.75,266.66 521.75,271.36 451.95,229.48" fill="#fff" stroke="none" stroke-width="0.7" stroke-linejoin="round" />
<polygon points="521.75,266.66 524.15,265.40 524.15,271.60 521.75,272.86" fill="#fff" stroke="#333" stroke-width="0.5" stroke-linejoin="round" />
<polyline points="524.30,265.40 524.30,271.60 521.75,272.96" fill="none" stroke="#161616" stroke-width="1.25" stroke-linejoin="round" stroke-linecap="round" />
<polygon points="451.95,224.78 454.35,223.52 524.15,265.40 521.75,266.66" fill="#b0b0b0" stroke="#2a2a2a" stroke-width="0.75" stroke-linejoin="round" />
<line x1="452.15" y1="224.98" x2="452.15" y2="227.38" stroke="#1e1e1e" stroke-width="1.0" stroke-linecap="round" />
<polygon points="447.06,227.36 516.86,269.24 516.86,273.94 447.06,232.06" fill="#fff" stroke="none" stroke-width="0.7" stroke-linejoin="round" />
<polygon points="516.86,269.24 519.26,267.98 519.26,274.18 516.86,275.44" fill="#fff" stroke="#333" stroke-width="0.5" stroke-linejoin="round" />
<polyline points="519.41,267.98 519.41,274.18 516.86,275.54" fill="none" stroke="#161616" stroke-width="1.25" stroke-linejoin="round" stroke-linecap="round" />
<polygon points="447.06,227.36 449.46,226.10 519.26,267.98 516.86,269.24" fill="#b0b0b0" stroke="#2a2a2a" stroke-width="0.75" stroke-linejoin="round" />
<line x1="447.26" y1="227.56" x2="447.26" y2="229.96" stroke="#1e1e1e" stroke-width="1.0" stroke-linecap="round" />
<polygon points="442.17,229.93 511.97,271.81 511.97,276.51 442.17,234.63" fill="#fff" stroke="none" stroke-width="0.7" stroke-linejoin="round" />
<polygon points="511.97,271.81 514.37,270.55 514.37,276.75 511.97,278.01" fill="#fff" stroke="#333" stroke-width="0.5" stroke-linejoin="round" />
<polyline points="514.52,270.55 514.52,276.75 511.97,278.11" fill="none" stroke="#161616" stroke-width="1.25" stroke-linejoin="round" stroke-linecap="round" />
<polygon points="442.17,229.93 444.57,228.67 514.37,270.55 511.97,271.81" fill="#b0b0b0" stroke="#2a2a2a" stroke-width="0.75" stroke-linejoin="round" />
<line x1="442.37" y1="230.13" x2="442.37" y2="232.53" stroke="#1e1e1e" stroke-width="1.0" stroke-linecap="round" />
<polygon points="437.28,232.51 507.08,274.39 507.08,279.09 437.28,237.21" fill="#fff" stroke="none" stroke-width="0.7" stroke-linejoin="round" />
<polygon points="507.08,274.39 509.48,273.13 509.48,279.33 507.08,280.59" fill="#fff" stroke="#333" stroke-width="0.5" stroke-linejoin="round" />
<polyline points="509.63,273.13 509.63,279.33 507.08,280.69" fill="none" stroke="#161616" stroke-width="1.25" stroke-linejoin="round" stroke-linecap="round" />
<polygon points="437.28,232.51 439.68,231.25 509.48,273.13 507.08,274.39" fill="#b0b0b0" stroke="#2a2a2a" stroke-width="0.75" stroke-linejoin="round" />
<line x1="437.48" y1="232.71" x2="437.48" y2="235.11" stroke="#1e1e1e" stroke-width="1.0" stroke-linecap="round" />
<polygon points="432.39,235.09 502.19,276.97 502.19,281.67 432.39,239.79" fill="#fff" stroke="none" stroke-width="0.7" stroke-linejoin="round" />
<polygon points="502.19,276.97 504.59,275.70 504.59,281.90 502.19,283.17" fill="#fff" stroke="#333" stroke-width="0.5" stroke-linejoin="round" />
<polyline points="504.74,275.70 504.74,281.90 502.19,283.27" fill="none" stroke="#161616" stroke-width="1.25" stroke-linejoin="round" stroke-linecap="round" />
<polygon points="432.39,235.09 434.79,233.82 504.59,275.70 502.19,276.97" fill="#b0b0b0" stroke="#2a2a2a" stroke-width="0.75" stroke-linejoin="round" />
<line x1="432.59" y1="235.29" x2="432.59" y2="237.69" stroke="#1e1e1e" stroke-width="1.0" stroke-linecap="round" />
<polygon points="427.49,237.66 497.29,279.54 497.29,284.24 427.49,242.36" fill="#fff" stroke="none" stroke-width="0.7" stroke-linejoin="round" />
<polygon points="497.29,279.54 499.69,278.28 499.69,284.48 497.29,285.74" fill="#fff" stroke="#333" stroke-width="0.5" stroke-linejoin="round" />
<polyline points="499.84,278.28 499.84,284.48 497.29,285.84" fill="none" stroke="#161616" stroke-width="1.25" stroke-linejoin="round" stroke-linecap="round" />
<polygon points="427.49,237.66 429.89,236.40 499.69,278.28 497.29,279.54" fill="#b0b0b0" stroke="#2a2a2a" stroke-width="0.75" stroke-linejoin="round" />
<line x1="427.69" y1="237.86" x2="427.69" y2="240.26" stroke="#1e1e1e" stroke-width="1.0" stroke-linecap="round" />
<polygon points="422.60,240.24 492.40,282.12 492.40,286.82 422.60,244.94" fill="#fff" stroke="none" stroke-width="0.7" stroke-linejoin="round" />
<polygon points="492.40,282.12 494.80,280.85 494.80,287.05 492.40,288.32" fill="#fff" stroke="#333" stroke-width="0.5" stroke-linejoin="round" />
<polyline points="494.95,280.85 494.95,287.05 492.40,288.42" fill="none" stroke="#161616" stroke-width="1.25" stroke-linejoin="round" stroke-linecap="round" />
<polygon points="422.60,240.24 425.00,238.97 494.80,280.85 492.40,282.12" fill="#b0b0b0" stroke="#2a2a2a" stroke-width="0.75" stroke-linejoin="round" />
<line x1="422.80" y1="240.44" x2="422.80" y2="242.84" stroke="#1e1e1e" stroke-width="1.0" stroke-linecap="round" />
<polygon points="417.71,242.81 487.51,284.69 487.51,289.39 417.71,247.51" fill="#fff" stroke="none" stroke-width="0.7" stroke-linejoin="round" />
<polygon points="487.51,284.69 489.91,283.43 489.91,289.63 487.51,290.89" fill="#fff" stroke="#333" stroke-width="0.5" stroke-linejoin="round" />
<polyline points="490.06,283.43 490.06,289.63 487.51,290.99" fill="none" stroke="#161616" stroke-width="1.25" stroke-linejoin="round" stroke-linecap="round" />
<polygon points="417.71,242.81 420.11,241.55 489.91,283.43 487.51,284.69" fill="#b0b0b0" stroke="#2a2a2a" stroke-width="0.75" stroke-linejoin="round" />
<line x1="417.91" y1="243.01" x2="417.91" y2="245.41" stroke="#1e1e1e" stroke-width="1.0" stroke-linecap="round" />
<polygon points="412.82,245.39 482.62,287.27 482.62,291.97 412.82,250.09" fill="#fff" stroke="none" stroke-width="0.7" stroke-linejoin="round" />
<polygon points="482.62,287.27 485.02,286.00 485.02,292.20 482.62,293.47" fill="#fff" stroke="#333" stroke-width="0.5" stroke-linejoin="round" />
<polyline points="485.17,286.00 485.17,292.20 482.62,293.57" fill="none" stroke="#161616" stroke-width="1.25" stroke-linejoin="round" stroke-linecap="round" />
<polygon points="412.82,245.39 415.22,244.12 485.02,286.00 482.62,287.27" fill="#b0b0b0" stroke="#2a2a2a" stroke-width="0.75" stroke-linejoin="round" />
<line x1="413.02" y1="245.59" x2="413.02" y2="247.99" stroke="#1e1e1e" stroke-width="1.0" stroke-linecap="round" />
<polygon points="407.93,247.96 477.73,289.84 477.73,294.54 407.93,252.66" fill="#fff" stroke="none" stroke-width="0.7" stroke-linejoin="round" />
<polygon points="477.73,289.84 480.13,288.58 480.13,294.78 477.73,296.04" fill="#fff" stroke="#333" stroke-width="0.5" stroke-linejoin="round" />
<polyline points="480.28,288.58 480.28,294.78 477.73,296.14" fill="none" stroke="#161616" stroke-width="1.25" stroke-linejoin="round" stroke-linecap="round" />
<polygon points="407.93,247.96 410.33,246.70 480.13,288.58 477.73,289.84" fill="#b0b0b0" stroke="#2a2a2a" stroke-width="0.75" stroke-linejoin="round" />
<line x1="408.13" y1="248.16" x2="408.13" y2="250.56" stroke="#1e1e1e" stroke-width="1.0" stroke-linecap="round" />
<polygon points="403.04,250.54 472.84,292.42 472.84,297.12 403.04,255.24" fill="#fff" stroke="none" stroke-width="0.7" stroke-linejoin="round" />
<polygon points="472.84,292.42 475.24,291.15 475.24,297.35 472.84,298.62" fill="#fff" stroke="#333" stroke-width="0.5" stroke-linejoin="round" />
<polyline points="475.39,291.15 475.39,297.35 472.84,298.72" fill="none" stroke="#161616" stroke-width="1.25" stroke-linejoin="round" stroke-linecap="round" />
<polygon points="403.04,250.54 405.44,249.27 475.24,291.15 472.84,292.42" fill="#b0b0b0" stroke="#2a2a2a" stroke-width="0.75" stroke-linejoin="round" />
<line x1="403.24" y1="250.74" x2="403.24" y2="253.14" stroke="#1e1e1e" stroke-width="1.0" stroke-linecap="round" />
<polygon points="398.15,253.11 467.95,294.99 467.95,299.69 398.15,257.81" fill="#fff" stroke="none" stroke-width="0.7" stroke-linejoin="round" />
<polygon points="467.95,294.99 470.35,293.73 470.35,299.93 467.95,301.19" fill="#fff" stroke="#333" stroke-width="0.5" stroke-linejoin="round" />
<polyline points="470.50,293.73 470.50,299.93 467.95,301.29" fill="none" stroke="#161616" stroke-width="1.25" stroke-linejoin="round" stroke-linecap="round" />
<polygon points="398.15,253.11 400.55,251.85 470.35,293.73 467.95,294.99" fill="#b0b0b0" stroke="#2a2a2a" stroke-width="0.75" stroke-linejoin="round" />
<line x1="398.35" y1="253.31" x2="398.35" y2="255.71" stroke="#1e1e1e" stroke-width="1.0" stroke-linecap="round" />
<polygon points="393.26,255.69 463.06,297.57 463.06,302.27 393.26,260.39" fill="#fff" stroke="none" stroke-width="0.7" stroke-linejoin="round" />
<polygon points="463.06,297.57 465.46,296.30 465.46,302.50 463.06,303.77" fill="#fff" stroke="#333" stroke-width="0.5" stroke-linejoin="round" />
<polyline points="465.61,296.30 465.61,302.50 463.06,303.87" fill="none" stroke="#161616" stroke-width="1.25" stroke-linejoin="round" stroke-linecap="round" />
<polygon points="393.26,255.69 395.66,254.42 465.46,296.30 463.06,297.57" fill="#b0b0b0" stroke="#2a2a2a" stroke-width="0.75" stroke-linejoin="round" />
<line x1="393.46" y1="255.89" x2="393.46" y2="258.29" stroke="#1e1e1e" stroke-width="1.0" stroke-linecap="round" />
<polygon points="388.36,258.26 458.16,300.14 458.16,304.84 388.36,262.96" fill="#fff" stroke="none" stroke-width="0.7" stroke-linejoin="round" />
<polygon points="458.16,300.14 460.56,298.88 460.56,305.08 458.16,306.34" fill="#fff" stroke="#333" stroke-width="0.5" stroke-linejoin="round" />
<polyline points="460.71,298.88 460.71,305.08 458.16,306.44" fill="none" stroke="#161616" stroke-width="1.25" stroke-linejoin="round" stroke-linecap="round" />
<polygon points="388.36,258.26 390.76,257.00 460.56,298.88 458.16,300.14" fill="#b0b0b0" stroke="#2a2a2a" stroke-width="0.75" stroke-linejoin="round" />
<line x1="388.56" y1="258.46" x2="388.56" y2="260.86" stroke="#1e1e1e" stroke-width="1.0" stroke-linecap="round" />
<polygon points="383.47,260.84 453.27,302.72 453.27,307.42 383.47,265.54" fill="#fff" stroke="none" stroke-width="0.7" stroke-linejoin="round" />
<polygon points="453.27,302.72 455.67,301.45 455.67,307.65 453.27,308.92" fill="#fff" stroke="#333" stroke-width="0.5" stroke-linejoin="round" />
<polyline points="455.82,301.45 455.82,307.65 453.27,309.02" fill="none" stroke="#161616" stroke-width="1.25" stroke-linejoin="round" stroke-linecap="round" />
<polygon points="383.47,260.84 385.87,259.57 455.67,301.45 453.27,302.72" fill="#b0b0b0" stroke="#2a2a2a" stroke-width="0.75" stroke-linejoin="round" />
<line x1="383.67" y1="261.04" x2="383.67" y2="263.44" stroke="#1e1e1e" stroke-width="1.0" stroke-linecap="round" />
<polygon points="378.58,263.41 448.38,305.29 448.38,309.99 378.58,268.11" fill="#fff" stroke="none" stroke-width="0.7" stroke-linejoin="round" />
<polygon points="448.38,305.29 450.78,304.03 450.78,310.23 448.38,311.49" fill="#fff" stroke="#333" stroke-width="0.5" stroke-linejoin="round" />
<polyline points="450.93,304.03 450.93,310.23 448.38,311.59" fill="none" stroke="#161616" stroke-width="1.25" stroke-linejoin="round" stroke-linecap="round" />
<polygon points="378.58,263.41 380.98,262.15 450.78,304.03 448.38,305.29" fill="#b0b0b0" stroke="#2a2a2a" stroke-width="0.75" stroke-linejoin="round" />
<line x1="378.78" y1="263.61" x2="378.78" y2="266.01" stroke="#1e1e1e" stroke-width="1.0" stroke-linecap="round" />
<polygon points="373.69,265.99 443.49,307.87 443.49,312.57 373.69,270.69" fill="#fff" stroke="none" stroke-width="0.7" stroke-linejoin="round" />
<polygon points="443.49,307.87 445.89,306.61 445.89,312.81 443.49,314.07" fill="#fff" stroke="#333" stroke-width="0.5" stroke-linejoin="round" />
<polyline points="446.04,306.61 446.04,312.81 443.49,314.17" fill="none" stroke="#161616" stroke-width="1.25" stroke-linejoin="round" stroke-linecap="round" />
<polygon points="373.69,265.99 376.09,264.73 445.89,306.61 443.49,307.87" fill="#b0b0b0" stroke="#2a2a2a" stroke-width="0.75" stroke-linejoin="round" />
<line x1="373.89" y1="266.19" x2="373.89" y2="268.59" stroke="#1e1e1e" stroke-width="1.0" stroke-linecap="round" />
<polygon points="368.80,268.56 438.60,310.44 438.60,315.14 368.80,273.26" fill="#fff" stroke="none" stroke-width="0.7" stroke-linejoin="round" />
<polygon points="438.60,310.44 441.00,309.18 441.00,315.38 438.60,316.64" fill="#fff" stroke="#333" stroke-width="0.5" stroke-linejoin="round" />
<polyline points="441.15,309.18 441.15,315.38 438.60,316.74" fill="none" stroke="#161616" stroke-width="1.25" stroke-linejoin="round" stroke-linecap="round" />
<polygon points="368.80,268.56 371.20,267.30 441.00,309.18 438.60,310.44" fill="#b0b0b0" stroke="#2a2a2a" stroke-width="0.75" stroke-linejoin="round" />
<line x1="369.00" y1="268.76" x2="369.00" y2="271.16" stroke="#1e1e1e" stroke-width="1.0" stroke-linecap="round" />
<polygon points="363.91,271.14 433.71,313.02 433.71,317.72 363.91,275.84" fill="#fff" stroke="none" stroke-width="0.7" stroke-linejoin="round" />
<polygon points="433.71,313.02 436.11,311.76 436.11,317.96 433.71,319.22" fill="#fff" stroke="#333" stroke-width="0.5" stroke-linejoin="round" />
<polyline points="436.26,311.76 436.26,317.96 433.71,319.32" fill="none" stroke="#161616" stroke-width="1.25" stroke-linejoin="round" stroke-linecap="round" />
<polygon points="363.91,271.14 366.31,269.88 436.11,311.76 433.71,313.02" fill="#b0b0b0" stroke="#2a2a2a" stroke-width="0.75" stroke-linejoin="round" />
<line x1="364.11" y1="271.34" x2="364.11" y2="273.74" stroke="#1e1e1e" stroke-width="1.0" stroke-linecap="round" />
<polygon points="359.02,273.71 428.82,315.59 428.82,320.29 359.02,278.41" fill="#fff" stroke="none" stroke-width="0.7" stroke-linejoin="round" />
<polygon points="428.82,315.59 431.22,314.33 431.22,320.53 428.82,321.79" fill="#fff" stroke="#333" stroke-width="0.5" stroke-linejoin="round" />
<polyline points="431.37,314.33 431.37,320.53 428.82,321.89" fill="none" stroke="#161616" stroke-width="1.25" stroke-linejoin="round" stroke-linecap="round" />
<polygon points="359.02,273.71 361.42,272.45 431.22,314.33 428.82,315.59" fill="#b0b0b0" stroke="#2a2a2a" stroke-width="0.75" stroke-linejoin="round" />
<line x1="359.22" y1="273.91" x2="359.22" y2="276.31" stroke="#1e1e1e" stroke-width="1.0" stroke-linecap="round" />
<polygon points="354.12,276.29 423.92,318.17 423.92,322.87 354.12,280.99" fill="#fff" stroke="none" stroke-width="0.7" stroke-linejoin="round" />
<polygon points="423.92,318.17 426.32,316.91 426.32,323.11 423.92,324.37" fill="#fff" stroke="#333" stroke-width="0.5" stroke-linejoin="round" />
<polyline points="426.47,316.91 426.47,323.11 423.92,324.47" fill="none" stroke="#161616" stroke-width="1.25" stroke-linejoin="round" stroke-linecap="round" />
<polygon points="354.12,276.29 356.52,275.03 426.32,316.91 423.92,318.17" fill="#b0b0b0" stroke="#2a2a2a" stroke-width="0.75" stroke-linejoin="round" />
<line x1="354.32" y1="276.49" x2="354.32" y2="278.89" stroke="#1e1e1e" stroke-width="1.0" stroke-linecap="round" />
<polygon points="349.23,278.87 419.03,320.75 419.03,325.45 349.23,283.57" fill="#fff" stroke="none" stroke-width="0.7" stroke-linejoin="round" />
<polygon points="419.03,320.75 421.43,319.48 421.43,325.68 419.03,326.95" fill="#fff" stroke="#333" stroke-width="0.5" stroke-linejoin="round" />
<polyline points="421.58,319.48 421.58,325.68 419.03,327.05" fill="none" stroke="#161616" stroke-width="1.25" stroke-linejoin="round" stroke-linecap="round" />
<polygon points="349.23,278.87 351.63,277.60 421.43,319.48 419.03,320.75" fill="#b0b0b0" stroke="#2a2a2a" stroke-width="0.75" stroke-linejoin="round" />
<line x1="349.43" y1="279.07" x2="349.43" y2="281.47" stroke="#1e1e1e" stroke-width="1.0" stroke-linecap="round" />
<polygon points="344.34,281.44 414.14,323.32 414.14,328.02 344.34,286.14" fill="#fff" stroke="none" stroke-width="0.7" stroke-linejoin="round" />
<polygon points="414.14,323.32 416.54,322.06 416.54,328.26 414.14,329.52" fill="#fff" stroke="#333" stroke-width="0.5" stroke-linejoin="round" />
<polyline points="416.69,322.06 416.69,328.26 414.14,329.62" fill="none" stroke="#161616" stroke-width="1.25" stroke-linejoin="round" stroke-linecap="round" />
<polygon points="344.34,281.44 346.74,280.18 416.54,322.06 414.14,323.32" fill="#b0b0b0" stroke="#2a2a2a" stroke-width="0.75" stroke-linejoin="round" />
<line x1="344.54" y1="281.64" x2="344.54" y2="284.04" stroke="#1e1e1e" stroke-width="1.0" stroke-linecap="round" />
<polygon points="339.45,284.02 409.25,325.90 409.25,330.60 339.45,288.72" fill="#fff" stroke="none" stroke-width="0.7" stroke-linejoin="round" />
<polygon points="409.25,325.90 411.65,324.63 411.65,330.83 409.25,332.10" fill="#fff" stroke="#333" stroke-width="0.5" stroke-linejoin="round" />
<polyline points="411.80,324.63 411.80,330.83 409.25,332.20" fill="none" stroke="#161616" stroke-width="1.25" stroke-linejoin="round" stroke-linecap="round" />
<polygon points="339.45,284.02 341.85,282.75 411.65,324.63 409.25,325.90" fill="#b0b0b0" stroke="#2a2a2a" stroke-width="0.75" stroke-linejoin="round" />
<line x1="339.65" y1="284.22" x2="339.65" y2="286.62" stroke="#1e1e1e" stroke-width="1.0" stroke-linecap="round" />
<polygon points="334.56,286.59 404.36,328.47 404.36,333.17 334.56,291.29" fill="#fff" stroke="none" stroke-width="0.7" stroke-linejoin="round" />
<polygon points="404.36,328.47 406.76,327.21 406.76,333.41 404.36,334.67" fill="#fff" stroke="#333" stroke-width="0.5" stroke-linejoin="round" />
<polyline points="406.91,327.21 406.91,333.41 404.36,334.77" fill="none" stroke="#161616" stroke-width="1.25" stroke-linejoin="round" stroke-linecap="round" />
<polygon points="334.56,286.59 336.96,285.33 406.76,327.21 404.36,328.47" fill="#b0b0b0" stroke="#2a2a2a" stroke-width="0.75" stroke-linejoin="round" />
<line x1="334.76" y1="286.79" x2="334.76" y2="289.19" stroke="#1e1e1e" stroke-width="1.0" stroke-linecap="round" />
<polygon points="329.67,289.17 399.47,331.05 399.47,335.75 329.67,293.87" fill="#fff" stroke="none" stroke-width="0.7" stroke-linejoin="round" />
<polygon points="399.47,331.05 401.87,329.78 401.87,335.98 399.47,337.25" fill="#fff" stroke="#333" stroke-width="0.5" stroke-linejoin="round" />
<polyline points="402.02,329.78 402.02,335.98 399.47,337.35" fill="none" stroke="#161616" stroke-width="1.25" stroke-linejoin="round" stroke-linecap="round" />
<polygon points="329.67,289.17 332.07,287.90 401.87,329.78 399.47,331.05" fill="#b0b0b0" stroke="#2a2a2a" stroke-width="0.75" stroke-linejoin="round" />
<line x1="329.87" y1="289.37" x2="329.87" y2="291.77" stroke="#1e1e1e" stroke-width="1.0" stroke-linecap="round" />
<polygon points="324.78,291.74 394.58,333.62 394.58,338.32 324.78,296.44" fill="#fff" stroke="none" stroke-width="0.7" stroke-linejoin="round" />
<polygon points="394.58,333.62 396.98,332.36 396.98,338.56 394.58,339.82" fill="#fff" stroke="#333" stroke-width="0.5" stroke-linejoin="round" />
<polyline points="397.13,332.36 397.13,338.56 394.58,339.92" fill="none" stroke="#161616" stroke-width="1.25" stroke-linejoin="round" stroke-linecap="round" />
<polygon points="324.78,291.74 327.18,290.48 396.98,332.36 394.58,333.62" fill="#b0b0b0" stroke="#2a2a2a" stroke-width="0.75" stroke-linejoin="round" />
<line x1="324.98" y1="291.94" x2="324.98" y2="294.34" stroke="#1e1e1e" stroke-width="1.0" stroke-linecap="round" />
<polygon points="319.88,294.32 389.68,336.20 389.68,340.90 319.88,299.02" fill="#fff" stroke="none" stroke-width="0.7" stroke-linejoin="round" />
<polygon points="389.68,336.20 392.08,334.93 392.08,341.13 389.68,342.40" fill="#fff" stroke="#333" stroke-width="0.5" stroke-linejoin="round" />
<polyline points="392.23,334.93 392.23,341.13 389.68,342.50" fill="none" stroke="#161616" stroke-width="1.25" stroke-linejoin="round" stroke-linecap="round" />
<polygon points="319.88,294.32 322.28,293.05 392.08,334.93 389.68,336.20" fill="#b0b0b0" stroke="#2a2a2a" stroke-width="0.75" stroke-linejoin="round" />
<line x1="320.08" y1="294.52" x2="320.08" y2="296.92" stroke="#1e1e1e" stroke-width="1.0" stroke-linecap="round" />
<polygon points="314.99,296.89 384.79,338.77 384.79,343.47 314.99,301.59" fill="#fff" stroke="none" stroke-width="0.7" stroke-linejoin="round" />
<polygon points="384.79,338.77 387.19,337.51 387.19,343.71 384.79,344.97" fill="#fff" stroke="#333" stroke-width="0.5" stroke-linejoin="round" />
<polyline points="387.34,337.51 387.34,343.71 384.79,345.07" fill="none" stroke="#161616" stroke-width="1.25" stroke-linejoin="round" stroke-linecap="round" />
<polygon points="314.99,296.89 317.39,295.63 387.19,337.51 384.79,338.77" fill="#b0b0b0" stroke="#2a2a2a" stroke-width="0.75" stroke-linejoin="round" />
<line x1="315.19" y1="297.09" x2="315.19" y2="299.49" stroke="#1e1e1e" stroke-width="1.0" stroke-linecap="round" />
<polygon points="310.10,299.47 379.90,341.35 379.90,346.05 310.10,304.17" fill="#fff" stroke="none" stroke-width="0.7" stroke-linejoin="round" />
<polygon points="379.90,341.35 382.30,340.08 382.30,346.28 379.90,347.55" fill="#fff" stroke="#333" stroke-width="0.5" stroke-linejoin="round" />
<polyline points="382.45,340.08 382.45,346.28 379.90,347.65" fill="none" stroke="#161616" stroke-width="1.25" stroke-linejoin="round" stroke-linecap="round" />
<polygon points="310.10,299.47 312.50,298.20 382.30,340.08 379.90,341.35" fill="#b0b0b0" stroke="#2a2a2a" stroke-width="0.75" stroke-linejoin="round" />
<line x1="310.30" y1="299.67" x2="310.30" y2="302.07" stroke="#1e1e1e" stroke-width="1.0" stroke-linecap="round" />
<polygon points="305.21,302.04 375.01,343.92 375.01,348.62 305.21,306.74" fill="#fff" stroke="none" stroke-width="0.7" stroke-linejoin="round" />
<polygon points="375.01,343.92 377.41,342.66 377.41,348.86 375.01,350.12" fill="#fff" stroke="#333" stroke-width="0.5" stroke-linejoin="round" />
<polyline points="377.56,342.66 377.56,348.86 375.01,350.22" fill="none" stroke="#161616" stroke-width="1.25" stroke-linejoin="round" stroke-linecap="round" />
<polygon points="305.21,302.04 307.61,300.78 377.41,342.66 375.01,343.92" fill="#b0b0b0" stroke="#2a2a2a" stroke-width="0.75" stroke-linejoin="round" />
<line x1="305.41" y1="302.24" x2="305.41" y2="304.64" stroke="#1e1e1e" stroke-width="1.0" stroke-linecap="round" />
<polygon points="300.32,304.62 370.12,346.50 370.12,351.20 300.32,309.32" fill="#fff" stroke="none" stroke-width="0.7" stroke-linejoin="round" />
<polygon points="370.12,346.50 372.52,345.23 372.52,351.43 370.12,352.70" fill="#fff" stroke="#333" stroke-width="0.5" stroke-linejoin="round" />
<polyline points="372.67,345.23 372.67,351.43 370.12,352.80" fill="none" stroke="#161616" stroke-width="1.25" stroke-linejoin="round" stroke-linecap="round" />
<polygon points="300.32,304.62 302.72,303.35 372.52,345.23 370.12,346.50" fill="#b0b0b0" stroke="#2a2a2a" stroke-width="0.75" stroke-linejoin="round" />
<line x1="300.52" y1="304.82" x2="300.52" y2="307.22" stroke="#1e1e1e" stroke-width="1.0" stroke-linecap="round" />
<polygon points="295.43,307.19 365.23,349.07 365.23,353.77 295.43,311.89" fill="#fff" stroke="none" stroke-width="0.7" stroke-linejoin="round" />
<polygon points="365.23,349.07 367.63,347.81 367.63,354.01 365.23,355.27" fill="#fff" stroke="#333" stroke-width="0.5" stroke-linejoin="round" />
<polyline points="367.78,347.81 367.78,354.01 365.23,355.37" fill="none" stroke="#161616" stroke-width="1.25" stroke-linejoin="round" stroke-linecap="round" />
<polygon points="295.43,307.19 297.83,305.93 367.63,347.81 365.23,349.07" fill="#b0b0b0" stroke="#2a2a2a" stroke-width="0.75" stroke-linejoin="round" />
<line x1="295.63" y1="307.39" x2="295.63" y2="309.79" stroke="#1e1e1e" stroke-width="1.0" stroke-linecap="round" />
<polygon points="290.54,309.77 360.34,351.65 360.34,356.35 290.54,314.47" fill="#fff" stroke="none" stroke-width="0.7" stroke-linejoin="round" />
<polygon points="360.34,351.65 362.74,350.39 362.74,356.59 360.34,357.85" fill="#fff" stroke="#333" stroke-width="0.5" stroke-linejoin="round" />
<polyline points="362.89,350.39 362.89,356.59 360.34,357.95" fill="none" stroke="#161616" stroke-width="1.25" stroke-linejoin="round" stroke-linecap="round" />
<polygon points="290.54,309.77 292.94,308.51 362.74,350.39 360.34,351.65" fill="#b0b0b0" stroke="#2a2a2a" stroke-width="0.75" stroke-linejoin="round" />
<line x1="290.74" y1="309.97" x2="290.74" y2="312.37" stroke="#1e1e1e" stroke-width="1.0" stroke-linecap="round" />
<polygon points="285.64,312.34 355.44,354.22 355.44,358.92 285.64,317.04" fill="#fff" stroke="none" stroke-width="0.7" stroke-linejoin="round" />
<polygon points="355.44,354.22 357.84,352.96 357.84,359.16 355.44,360.42" fill="#fff" stroke="#333" stroke-width="0.5" stroke-linejoin="round" />
<polyline points="357.99,352.96 357.99,359.16 355.44,360.52" fill="none" stroke="#161616" stroke-width="1.25" stroke-linejoin="round" stroke-linecap="round" />
<polygon points="285.64,312.34 288.04,311.08 357.84,352.96 355.44,354.22" fill="#b0b0b0" stroke="#2a2a2a" stroke-width="0.75" stroke-linejoin="round" />
<line x1="285.84" y1="312.54" x2="285.84" y2="314.94" stroke="#1e1e1e" stroke-width="1.0" stroke-linecap="round" />
<polygon points="280.75,314.92 350.55,356.80 350.55,361.50 280.75,319.62" fill="#fff" stroke="none" stroke-width="0.7" stroke-linejoin="round" />
<polygon points="350.55,356.80 352.95,355.54 352.95,361.74 350.55,363.00" fill="#fff" stroke="#333" stroke-width="0.5" stroke-linejoin="round" />
<polyline points="353.10,355.54 353.10,361.74 350.55,363.10" fill="none" stroke="#161616" stroke-width="1.25" stroke-linejoin="round" stroke-linecap="round" />
<polygon points="280.75,314.92 283.15,313.66 352.95,355.54 350.55,356.80" fill="#b0b0b0" stroke="#2a2a2a" stroke-width="0.75" stroke-linejoin="round" />
<line x1="280.95" y1="315.12" x2="280.95" y2="317.52" stroke="#1e1e1e" stroke-width="1.0" stroke-linecap="round" />
<polygon points="275.86,317.50 345.66,359.38 345.66,364.08 275.86,322.20" fill="#fff" stroke="none" stroke-width="0.7" stroke-linejoin="round" />
<polygon points="345.66,359.38 348.06,358.11 348.06,364.31 345.66,365.58" fill="#fff" stroke="#333" stroke-width="0.5" stroke-linejoin="round" />
<polyline points="348.21,358.11 348.21,364.31 345.66,365.68" fill="none" stroke="#161616" stroke-width="1.25" stroke-linejoin="round" stroke-linecap="round" />
<polygon points="275.86,317.50 278.26,316.23 348.06,358.11 345.66,359.38" fill="#b0b0b0" stroke="#2a2a2a" stroke-width="0.75" stroke-linejoin="round" />
<line x1="276.06" y1="317.70" x2="276.06" y2="320.10" stroke="#1e1e1e" stroke-width="1.0" stroke-linecap="round" />
<polygon points="270.97,320.07 340.77,361.95 340.77,366.65 270.97,324.77" fill="#fff" stroke="none" stroke-width="0.7" stroke-linejoin="round" />
<polygon points="340.77,361.95 343.17,360.69 343.17,366.89 340.77,368.15" fill="#fff" stroke="#333" stroke-width="0.5" stroke-linejoin="round" />
<polyline points="343.32,360.69 343.32,366.89 340.77,368.25" fill="none" stroke="#161616" stroke-width="1.25" stroke-linejoin="round" stroke-linecap="round" />
<polygon points="270.97,320.07 273.37,318.81 343.17,360.69 340.77,361.95" fill="#b0b0b0" stroke="#2a2a2a" stroke-width="0.75" stroke-linejoin="round" />
<line x1="271.17" y1="320.27" x2="271.17" y2="322.67" stroke="#1e1e1e" stroke-width="1.0" stroke-linecap="round" />
<polygon points="266.08,322.65 335.88,364.53 335.88,369.23 266.08,327.35" fill="#fff" stroke="none" stroke-width="0.7" stroke-linejoin="round" />
<polygon points="335.88,364.53 338.28,363.26 338.28,369.46 335.88,370.73" fill="#fff" stroke="#333" stroke-width="0.5" stroke-linejoin="round" />
<polyline points="338.43,363.26 338.43,369.46 335.88,370.83" fill="none" stroke="#161616" stroke-width="1.25" stroke-linejoin="round" stroke-linecap="round" />
<polygon points="266.08,322.65 268.48,321.38 338.28,363.26 335.88,364.53" fill="#b0b0b0" stroke="#2a2a2a" stroke-width="0.75" stroke-linejoin="round" />
<line x1="266.28" y1="322.85" x2="266.28" y2="325.25" stroke="#1e1e1e" stroke-width="1.0" stroke-linecap="round" />
<polygon points="261.19,325.22 330.99,367.10 330.99,371.80 261.19,329.92" fill="#fff" stroke="none" stroke-width="0.7" stroke-linejoin="round" />
<polygon points="330.99,367.10 333.39,365.84 333.39,372.04 330.99,373.30" fill="#fff" stroke="#333" stroke-width="0.5" stroke-linejoin="round" />
<polyline points="333.54,365.84 333.54,372.04 330.99,373.40" fill="none" stroke="#161616" stroke-width="1.25" stroke-linejoin="round" stroke-linecap="round" />
<polygon points="261.19,325.22 263.59,323.96 333.39,365.84 330.99,367.10" fill="#b0b0b0" stroke="#2a2a2a" stroke-width="0.75" stroke-linejoin="round" />
<line x1="261.39" y1="325.42" x2="261.39" y2="327.82" stroke="#1e1e1e" stroke-width="1.0" stroke-linecap="round" />
<polygon points="256.30,327.80 326.10,369.68 326.10,374.38 256.30,332.50" fill="#fff" stroke="none" stroke-width="0.7" stroke-linejoin="round" />
<polygon points="326.10,369.68 328.50,368.41 328.50,374.61 326.10,375.88" fill="#fff" stroke="#333" stroke-width="0.5" stroke-linejoin="round" />
<polyline points="328.65,368.41 328.65,374.61 326.10,375.98" fill="none" stroke="#161616" stroke-width="1.25" stroke-linejoin="round" stroke-linecap="round" />
<polygon points="256.30,327.80 258.70,326.53 328.50,368.41 326.10,369.68" fill="#b0b0b0" stroke="#2a2a2a" stroke-width="0.75" stroke-linejoin="round" />
<line x1="256.50" y1="328.00" x2="256.50" y2="330.40" stroke="#1e1e1e" stroke-width="1.0" stroke-linecap="round" />
<polygon points="251.41,330.37 321.21,372.25 321.21,376.95 251.41,335.07" fill="#fff" stroke="none" stroke-width="0.7" stroke-linejoin="round" />
<polygon points="321.21,372.25 323.61,370.99 323.61,377.19 321.21,378.45" fill="#fff" stroke="#333" stroke-width="0.5" stroke-linejoin="round" />
<polyline points="323.76,370.99 323.76,377.19 321.21,378.55" fill="none" stroke="#161616" stroke-width="1.25" stroke-linejoin="round" stroke-linecap="round" />
<polygon points="251.41,330.37 253.81,329.11 323.61,370.99 321.21,372.25" fill="#b0b0b0" stroke="#2a2a2a" stroke-width="0.75" stroke-linejoin="round" />
<line x1="251.61" y1="330.57" x2="251.61" y2="332.97" stroke="#1e1e1e" stroke-width="1.0" stroke-linecap="round" />
<polygon points="246.51,332.95 316.31,374.83 316.31,379.53 246.51,337.65" fill="#fff" stroke="none" stroke-width="0.7" stroke-linejoin="round" />
<polygon points="316.31,374.83 318.71,373.56 318.71,379.76 316.31,381.03" fill="#fff" stroke="#333" stroke-width="0.5" stroke-linejoin="round" />
<polyline points="318.86,373.56 318.86,379.76 316.31,381.13" fill="none" stroke="#161616" stroke-width="1.25" stroke-linejoin="round" stroke-linecap="round" />
<polygon points="246.51,332.95 248.91,331.68 318.71,373.56 316.31,374.83" fill="#b0b0b0" stroke="#2a2a2a" stroke-width="0.75" stroke-linejoin="round" />
<line x1="246.71" y1="333.15" x2="246.71" y2="335.55" stroke="#1e1e1e" stroke-width="1.0" stroke-linecap="round" />
<polygon points="241.62,335.52 311.42,377.40 311.42,382.10 241.62,340.22" fill="#fff" stroke="none" stroke-width="0.7" stroke-linejoin="round" />
<polygon points="311.42,377.40 313.82,376.14 313.82,382.34 311.42,383.60" fill="#fff" stroke="#333" stroke-width="0.5" stroke-linejoin="round" />
<polyline points="313.97,376.14 313.97,382.34 311.42,383.70" fill="none" stroke="#161616" stroke-width="1.25" stroke-linejoin="round" stroke-linecap="round" />
<polygon points="241.62,335.52 244.02,334.26 313.82,376.14 311.42,377.40" fill="#b0b0b0" stroke="#2a2a2a" stroke-width="0.75" stroke-linejoin="round" />
<line x1="241.82" y1="335.72" x2="241.82" y2="338.12" stroke="#1e1e1e" stroke-width="1.0" stroke-linecap="round" />
<polygon points="236.73,338.10 306.53,379.98 306.53,384.68 236.73,342.80" fill="#fff" stroke="none" stroke-width="0.7" stroke-linejoin="round" />
<polygon points="306.53,379.98 308.93,378.71 308.93,384.91 306.53,386.18" fill="#fff" stroke="#333" stroke-width="0.5" stroke-linejoin="round" />
<polyline points="309.08,378.71 309.08,384.91 306.53,386.28" fill="none" stroke="#161616" stroke-width="1.25" stroke-linejoin="round" stroke-linecap="round" />
<polygon points="236.73,338.10 239.13,336.83 308.93,378.71 306.53,379.98" fill="#b0b0b0" stroke="#2a2a2a" stroke-width="0.75" stroke-linejoin="round" />
<line x1="236.93" y1="338.30" x2="236.93" y2="340.70" stroke="#1e1e1e" stroke-width="1.0" stroke-linecap="round" />
<polygon points="231.84,340.67 301.64,382.55 301.64,387.25 231.84,345.37" fill="#fff" stroke="none" stroke-width="0.7" stroke-linejoin="round" />
<polygon points="301.64,382.55 304.04,381.29 304.04,387.49 301.64,388.75" fill="#fff" stroke="#333" stroke-width="0.5" stroke-linejoin="round" />
<polyline points="304.19,381.29 304.19,387.49 301.64,388.85" fill="none" stroke="#161616" stroke-width="1.25" stroke-linejoin="round" stroke-linecap="round" />
<polygon points="231.84,340.67 234.24,339.41 304.04,381.29 301.64,382.55" fill="#b0b0b0" stroke="#2a2a2a" stroke-width="0.75" stroke-linejoin="round" />
<line x1="232.04" y1="340.87" x2="232.04" y2="343.27" stroke="#1e1e1e" stroke-width="1.0" stroke-linecap="round" />
<polygon points="226.95,343.25 296.75,385.13 296.75,389.83 226.95,347.95" fill="#fff" stroke="none" stroke-width="0.7" stroke-linejoin="round" />
<polygon points="296.75,385.13 299.15,383.86 299.15,390.06 296.75,391.33" fill="#fff" stroke="#333" stroke-width="0.5" stroke-linejoin="round" />
<polyline points="299.30,383.86 299.30,390.06 296.75,391.43" fill="none" stroke="#161616" stroke-width="1.25" stroke-linejoin="round" stroke-linecap="round" />
<polygon points="226.95,343.25 229.35,341.98 299.15,383.86 296.75,385.13" fill="#b0b0b0" stroke="#2a2a2a" stroke-width="0.75" stroke-linejoin="round" />
<line x1="227.15" y1="343.45" x2="227.15" y2="345.85" stroke="#1e1e1e" stroke-width="1.0" stroke-linecap="round" />
<polygon points="222.06,345.82 291.86,387.70 291.86,392.40 222.06,350.52" fill="#fff" stroke="none" stroke-width="0.7" stroke-linejoin="round" />
<polygon points="291.86,387.70 294.26,386.44 294.26,392.64 291.86,393.90" fill="#fff" stroke="#333" stroke-width="0.5" stroke-linejoin="round" />
<polyline points="294.41,386.44 294.41,392.64 291.86,394.00" fill="none" stroke="#161616" stroke-width="1.25" stroke-linejoin="round" stroke-linecap="round" />
<polygon points="222.06,345.82 224.46,344.56 294.26,386.44 291.86,387.70" fill="#b0b0b0" stroke="#2a2a2a" stroke-width="0.75" stroke-linejoin="round" />
<line x1="222.26" y1="346.02" x2="222.26" y2="348.42" stroke="#1e1e1e" stroke-width="1.0" stroke-linecap="round" />
<polygon points="217.17,348.40 286.97,390.28 286.97,394.98 217.17,353.10" fill="#fff" stroke="none" stroke-width="0.7" stroke-linejoin="round" />
<polygon points="286.97,390.28 289.37,389.02 289.37,395.22 286.97,396.48" fill="#fff" stroke="#333" stroke-width="0.5" stroke-linejoin="round" />
<polyline points="289.52,389.02 289.52,395.22 286.97,396.58" fill="none" stroke="#161616" stroke-width="1.25" stroke-linejoin="round" stroke-linecap="round" />
<polygon points="217.17,348.40 219.57,347.14 289.37,389.02 286.97,390.28" fill="#b0b0b0" stroke="#2a2a2a" stroke-width="0.75" stroke-linejoin="round" />
<line x1="217.37" y1="348.60" x2="217.37" y2="351.00" stroke="#1e1e1e" stroke-width="1.0" stroke-linecap="round" />
<polygon points="212.27,350.97 282.07,392.85 282.07,397.55 212.27,355.67" fill="#fff" stroke="none" stroke-width="0.7" stroke-linejoin="round" />
<polygon points="282.07,392.85 284.47,391.59 284.47,397.79 282.07,399.05" fill="#fff" stroke="#333" stroke-width="0.5" stroke-linejoin="round" />
<polyline points="284.62,391.59 284.62,397.79 282.07,399.15" fill="none" stroke="#161616" stroke-width="1.25" stroke-linejoin="round" stroke-linecap="round" />
<polygon points="212.27,350.97 214.67,349.71 284.47,391.59 282.07,392.85" fill="#b0b0b0" stroke="#2a2a2a" stroke-width="0.75" stroke-linejoin="round" />
<line x1="212.47" y1="351.17" x2="212.47" y2="353.57" stroke="#1e1e1e" stroke-width="1.0" stroke-linecap="round" />
<polygon points="207.38,353.55 277.18,395.43 277.18,400.13 207.38,358.25" fill="#fff" stroke="none" stroke-width="0.7" stroke-linejoin="round" />
<polygon points="277.18,395.43 279.58,394.17 279.58,400.37 277.18,401.63" fill="#fff" stroke="#333" stroke-width="0.5" stroke-linejoin="round" />
<polyline points="279.73,394.17 279.73,400.37 277.18,401.73" fill="none" stroke="#161616" stroke-width="1.25" stroke-linejoin="round" stroke-linecap="round" />
<polygon points="207.38,353.55 209.78,352.29 279.58,394.17 277.18,395.43" fill="#b0b0b0" stroke="#2a2a2a" stroke-width="0.75" stroke-linejoin="round" />
<line x1="207.58" y1="353.75" x2="207.58" y2="356.15" stroke="#1e1e1e" stroke-width="1.0" stroke-linecap="round" />
<polygon points="202.49,356.12 272.29,398.00 272.29,402.70 202.49,360.82" fill="#fff" stroke="none" stroke-width="0.7" stroke-linejoin="round" />
<polygon points="272.29,398.00 274.69,396.74 274.69,402.94 272.29,404.20" fill="#fff" stroke="#333" stroke-width="0.5" stroke-linejoin="round" />
<polyline points="274.84,396.74 274.84,402.94 272.29,404.30" fill="none" stroke="#161616" stroke-width="1.25" stroke-linejoin="round" stroke-linecap="round" />
<polygon points="202.49,356.12 204.89,354.86 274.69,396.74 272.29,398.00" fill="#b0b0b0" stroke="#2a2a2a" stroke-width="0.75" stroke-linejoin="round" />
<line x1="202.69" y1="356.32" x2="202.69" y2="358.72" stroke="#1e1e1e" stroke-width="1.0" stroke-linecap="round" />
<polygon points="197.60,358.70 267.40,400.58 267.40,406.78 197.60,364.90" fill="#fdfdfd" stroke="#2a2a2a" stroke-width="0.8" stroke-linejoin="round" />
<polygon points="267.40,400.58 269.80,399.32 269.80,405.52 267.40,406.78" fill="#fff" stroke="#333" stroke-width="0.5" stroke-linejoin="round" />
<polyline points="269.95,399.32 269.95,405.52 267.40,406.88" fill="none" stroke="#161616" stroke-width="1.25" stroke-linejoin="round" stroke-linecap="round" />
<polygon points="197.60,358.70 200.00,357.44 269.80,399.32 267.40,400.58" fill="#b0b0b0" stroke="#2a2a2a" stroke-width="0.75" stroke-linejoin="round" />
<line x1="197.80" y1="358.90" x2="197.80" y2="361.30" stroke="#1e1e1e" stroke-width="1.0" stroke-linecap="round" />
<line x1="198.60" y1="361.80" x2="266.40" y2="403.68" stroke="#777" stroke-width="0.6" stroke-linecap="round" />
<line x1="215.01" y1="367.74" x2="217.50" y2="366.43" stroke="#2a2a2a" stroke-width="1.2" stroke-linecap="round" />
<line x1="219.90" y1="365.17" x2="222.39" y2="363.85" stroke="#2a2a2a" stroke-width="1.2" stroke-linecap="round" />
<polyline points="220.20,367.27 220.20,364.17 221.90,363.27" fill="none" stroke="#2a2a2a" stroke-width="0.8" stroke-linejoin="round" stroke-linecap="round" />
<line x1="224.79" y1="362.59" x2="227.28" y2="361.28" stroke="#2a2a2a" stroke-width="1.2" stroke-linecap="round" />
<line x1="229.68" y1="360.01" x2="232.17" y2="358.70" stroke="#2a2a2a" stroke-width="1.2" stroke-linecap="round" />
<line x1="234.57" y1="357.44" x2="237.06" y2="356.13" stroke="#2a2a2a" stroke-width="1.2" stroke-linecap="round" />
<line x1="239.46" y1="354.86" x2="241.96" y2="353.55" stroke="#2a2a2a" stroke-width="1.2" stroke-linecap="round" />
<polyline points="239.76,356.96 239.76,353.86 241.46,352.96" fill="none" stroke="#2a2a2a" stroke-width="0.8" stroke-linejoin="round" stroke-linecap="round" />
<line x1="244.36" y1="352.29" x2="246.85" y2="350.98" stroke="#2a2a2a" stroke-width="1.2" stroke-linecap="round" />
<line x1="249.25" y1="349.71" x2="251.74" y2="348.40" stroke="#2a2a2a" stroke-width="1.2" stroke-linecap="round" />
<line x1="254.14" y1="347.14" x2="256.63" y2="345.83" stroke="#2a2a2a" stroke-width="1.2" stroke-linecap="round" />
<line x1="259.03" y1="344.56" x2="261.52" y2="343.25" stroke="#2a2a2a" stroke-width="1.2" stroke-linecap="round" />
<polyline points="259.33,346.66 259.33,343.56 261.03,342.66" fill="none" stroke="#2a2a2a" stroke-width="0.8" stroke-linejoin="round" stroke-linecap="round" />
<line x1="263.92" y1="341.99" x2="266.41" y2="340.68" stroke="#2a2a2a" stroke-width="1.2" stroke-linecap="round" />
<line x1="268.81" y1="339.41" x2="271.30" y2="338.10" stroke="#2a2a2a" stroke-width="1.2" stroke-linecap="round" />
<line x1="273.70" y1="336.84" x2="276.19" y2="335.53" stroke="#2a2a2a" stroke-width="1.2" stroke-linecap="round" />
<line x1="278.59" y1="334.26" x2="281.09" y2="332.95" stroke="#2a2a2a" stroke-width="1.2" stroke-linecap="round" />
<polyline points="278.89,336.36 278.89,333.26 280.59,332.36" fill="none" stroke="#2a2a2a" stroke-width="0.8" stroke-linejoin="round" stroke-linecap="round" />
<line x1="283.49" y1="331.69" x2="285.98" y2="330.37" stroke="#2a2a2a" stroke-width="1.2" stroke-linecap="round" />
<line x1="288.38" y1="329.11" x2="290.87" y2="327.80" stroke="#2a2a2a" stroke-width="1.2" stroke-linecap="round" />
<line x1="293.27" y1="326.54" x2="295.76" y2="325.22" stroke="#2a2a2a" stroke-width="1.2" stroke-linecap="round" />
<line x1="298.16" y1="323.96" x2="300.65" y2="322.65" stroke="#2a2a2a" stroke-width="1.2" stroke-linecap="round" />
<polyline points="298.46,326.06 298.46,322.96 300.16,322.06" fill="none" stroke="#2a2a2a" stroke-width="0.8" stroke-linejoin="round" stroke-linecap="round" />
<line x1="303.05" y1="321.38" x2="305.54" y2="320.07" stroke="#2a2a2a" stroke-width="1.2" stroke-linecap="round" />
<line x1="307.94" y1="318.81" x2="310.43" y2="317.50" stroke="#2a2a2a" stroke-width="1.2" stroke-linecap="round" />
<line x1="312.83" y1="316.23" x2="315.33" y2="314.92" stroke="#2a2a2a" stroke-width="1.2" stroke-linecap="round" />
<line x1="317.73" y1="313.66" x2="320.22" y2="312.35" stroke="#2a2a2a" stroke-width="1.2" stroke-linecap="round" />
<polyline points="318.03,315.76 318.03,312.66 319.73,311.76" fill="none" stroke="#2a2a2a" stroke-width="0.8" stroke-linejoin="round" stroke-linecap="round" />
<line x1="322.62" y1="311.08" x2="325.11" y2="309.77" stroke="#2a2a2a" stroke-width="1.2" stroke-linecap="round" />
<line x1="327.51" y1="308.51" x2="330.00" y2="307.20" stroke="#2a2a2a" stroke-width="1.2" stroke-linecap="round" />
<line x1="332.40" y1="305.93" x2="334.89" y2="304.62" stroke="#2a2a2a" stroke-width="1.2" stroke-linecap="round" />
<line x1="337.29" y1="303.36" x2="339.78" y2="302.05" stroke="#2a2a2a" stroke-width="1.2" stroke-linecap="round" />
<polyline points="337.59,305.46 337.59,302.36 339.29,301.46" fill="none" stroke="#2a2a2a" stroke-width="0.8" stroke-linejoin="round" stroke-linecap="round" />
<line x1="342.18" y1="300.78" x2="344.67" y2="299.47" stroke="#2a2a2a" stroke-width="1.2" stroke-linecap="round" />
<line x1="347.07" y1="298.21" x2="349.57" y2="296.90" stroke="#2a2a2a" stroke-width="1.2" stroke-linecap="round" />
<line x1="351.97" y1="295.63" x2="354.46" y2="294.32" stroke="#2a2a2a" stroke-width="1.2" stroke-linecap="round" />
<line x1="356.86" y1="293.06" x2="359.35" y2="291.74" stroke="#2a2a2a" stroke-width="1.2" stroke-linecap="round" />
<polyline points="357.16,295.16 357.16,292.06 358.86,291.16" fill="none" stroke="#2a2a2a" stroke-width="0.8" stroke-linejoin="round" stroke-linecap="round" />
<line x1="361.75" y1="290.48" x2="364.24" y2="289.17" stroke="#2a2a2a" stroke-width="1.2" stroke-linecap="round" />
<line x1="366.64" y1="287.91" x2="369.13" y2="286.59" stroke="#2a2a2a" stroke-width="1.2" stroke-linecap="round" />
<line x1="371.53" y1="285.33" x2="374.02" y2="284.02" stroke="#2a2a2a" stroke-width="1.2" stroke-linecap="round" />
<line x1="376.42" y1="282.76" x2="378.91" y2="281.44" stroke="#2a2a2a" stroke-width="1.2" stroke-linecap="round" />
<polyline points="376.72,284.86 376.72,281.76 378.42,280.86" fill="none" stroke="#2a2a2a" stroke-width="0.8" stroke-linejoin="round" stroke-linecap="round" />
<line x1="381.31" y1="280.18" x2="383.81" y2="278.87" stroke="#2a2a2a" stroke-width="1.2" stroke-linecap="round" />
<line x1="386.21" y1="277.60" x2="388.70" y2="276.29" stroke="#2a2a2a" stroke-width="1.2" stroke-linecap="round" />
<line x1="391.10" y1="275.03" x2="393.59" y2="273.72" stroke="#2a2a2a" stroke-width="1.2" stroke-linecap="round" />
<line x1="395.99" y1="272.45" x2="398.48" y2="271.14" stroke="#2a2a2a" stroke-width="1.2" stroke-linecap="round" />
<polyline points="396.29,274.55 396.29,271.45 397.99,270.55" fill="none" stroke="#2a2a2a" stroke-width="0.8" stroke-linejoin="round" stroke-linecap="round" />
<line x1="400.88" y1="269.88" x2="403.37" y2="268.57" stroke="#2a2a2a" stroke-width="1.2" stroke-linecap="round" />
<line x1="405.77" y1="267.30" x2="408.26" y2="265.99" stroke="#2a2a2a" stroke-width="1.2" stroke-linecap="round" />
<line x1="410.66" y1="264.73" x2="413.15" y2="263.42" stroke="#2a2a2a" stroke-width="1.2" stroke-linecap="round" />
<line x1="415.55" y1="262.15" x2="418.04" y2="260.84" stroke="#2a2a2a" stroke-width="1.2" stroke-linecap="round" />
<polyline points="415.85,264.25 415.85,261.15 417.55,260.25" fill="none" stroke="#2a2a2a" stroke-width="0.8" stroke-linejoin="round" stroke-linecap="round" />
<line x1="420.44" y1="259.58" x2="422.94" y2="258.27" stroke="#2a2a2a" stroke-width="1.2" stroke-linecap="round" />
<line x1="425.34" y1="257.00" x2="427.83" y2="255.69" stroke="#2a2a2a" stroke-width="1.2" stroke-linecap="round" />
<line x1="430.23" y1="254.43" x2="432.72" y2="253.12" stroke="#2a2a2a" stroke-width="1.2" stroke-linecap="round" />
<line x1="435.12" y1="251.85" x2="437.61" y2="250.54" stroke="#2a2a2a" stroke-width="1.2" stroke-linecap="round" />
<polyline points="435.42,253.95 435.42,250.85 437.12,249.95" fill="none" stroke="#2a2a2a" stroke-width="0.8" stroke-linejoin="round" stroke-linecap="round" />
<line x1="440.01" y1="249.28" x2="442.50" y2="247.96" stroke="#2a2a2a" stroke-width="1.2" stroke-linecap="round" />
<line x1="444.90" y1="246.70" x2="447.39" y2="245.39" stroke="#2a2a2a" stroke-width="1.2" stroke-linecap="round" />
<line x1="449.79" y1="244.13" x2="452.28" y2="242.81" stroke="#2a2a2a" stroke-width="1.2" stroke-linecap="round" />
<line x1="454.68" y1="241.55" x2="457.18" y2="240.24" stroke="#2a2a2a" stroke-width="1.2" stroke-linecap="round" />
<polyline points="454.98,243.65 454.98,240.55 456.68,239.65" fill="none" stroke="#2a2a2a" stroke-width="0.8" stroke-linejoin="round" stroke-linecap="round" />
<line x1="459.58" y1="238.98" x2="462.07" y2="237.66" stroke="#2a2a2a" stroke-width="1.2" stroke-linecap="round" />
<line x1="464.47" y1="236.40" x2="466.96" y2="235.09" stroke="#2a2a2a" stroke-width="1.2" stroke-linecap="round" />
<line x1="469.36" y1="233.82" x2="471.85" y2="232.51" stroke="#2a2a2a" stroke-width="1.2" stroke-linecap="round" />
<line x1="474.25" y1="231.25" x2="476.74" y2="229.94" stroke="#2a2a2a" stroke-width="1.2" stroke-linecap="round" />
<polyline points="474.55,233.35 474.55,230.25 476.25,229.35" fill="none" stroke="#2a2a2a" stroke-width="0.8" stroke-linejoin="round" stroke-linecap="round" />
<line x1="479.14" y1="228.67" x2="481.63" y2="227.36" stroke="#2a2a2a" stroke-width="1.2" stroke-linecap="round" />
<line x1="484.03" y1="226.10" x2="486.52" y2="224.79" stroke="#2a2a2a" stroke-width="1.2" stroke-linecap="round" />
<line x1="488.92" y1="223.52" x2="491.42" y2="222.21" stroke="#2a2a2a" stroke-width="1.2" stroke-linecap="round" />
<line x1="493.82" y1="220.95" x2="496.31" y2="219.64" stroke="#2a2a2a" stroke-width="1.2" stroke-linecap="round" />
<polyline points="494.12,223.05 494.12,219.95 495.82,219.05" fill="none" stroke="#2a2a2a" stroke-width="0.8" stroke-linejoin="round" stroke-linecap="round" />
<line x1="254.79" y1="391.61" x2="257.28" y2="390.30" stroke="#2a2a2a" stroke-width="1.2" stroke-linecap="round" />
<line x1="259.68" y1="389.04" x2="262.18" y2="387.73" stroke="#2a2a2a" stroke-width="1.2" stroke-linecap="round" />
<polyline points="259.98,391.14 259.98,388.04 261.68,387.14" fill="none" stroke="#2a2a2a" stroke-width="0.8" stroke-linejoin="round" stroke-linecap="round" />
<line x1="264.58" y1="386.46" x2="267.07" y2="385.15" stroke="#2a2a2a" stroke-width="1.2" stroke-linecap="round" />
<line x1="269.47" y1="383.89" x2="271.96" y2="382.57" stroke="#2a2a2a" stroke-width="1.2" stroke-linecap="round" />
<line x1="274.36" y1="381.31" x2="276.85" y2="380.00" stroke="#2a2a2a" stroke-width="1.2" stroke-linecap="round" />
<line x1="279.25" y1="378.74" x2="281.74" y2="377.42" stroke="#2a2a2a" stroke-width="1.2" stroke-linecap="round" />
<polyline points="279.55,380.84 279.55,377.74 281.25,376.84" fill="none" stroke="#2a2a2a" stroke-width="0.8" stroke-linejoin="round" stroke-linecap="round" />
<line x1="284.14" y1="376.16" x2="286.63" y2="374.85" stroke="#2a2a2a" stroke-width="1.2" stroke-linecap="round" />
<line x1="289.03" y1="373.59" x2="291.52" y2="372.27" stroke="#2a2a2a" stroke-width="1.2" stroke-linecap="round" />
<line x1="293.92" y1="371.01" x2="296.42" y2="369.70" stroke="#2a2a2a" stroke-width="1.2" stroke-linecap="round" />
<line x1="298.82" y1="368.43" x2="301.31" y2="367.12" stroke="#2a2a2a" stroke-width="1.2" stroke-linecap="round" />
<polyline points="299.12,370.53 299.12,367.43 300.82,366.53" fill="none" stroke="#2a2a2a" stroke-width="0.8" stroke-linejoin="round" stroke-linecap="round" />
<line x1="303.71" y1="365.86" x2="306.20" y2="364.55" stroke="#2a2a2a" stroke-width="1.2" stroke-linecap="round" />
<line x1="308.60" y1="363.28" x2="311.09" y2="361.97" stroke="#2a2a2a" stroke-width="1.2" stroke-linecap="round" />
<line x1="313.49" y1="360.71" x2="315.98" y2="359.40" stroke="#2a2a2a" stroke-width="1.2" stroke-linecap="round" />
<line x1="318.38" y1="358.13" x2="320.87" y2="356.82" stroke="#2a2a2a" stroke-width="1.2" stroke-linecap="round" />
<polyline points="318.68,360.23 318.68,357.13 320.38,356.23" fill="none" stroke="#2a2a2a" stroke-width="0.8" stroke-linejoin="round" stroke-linecap="round" />
<line x1="323.27" y1="355.56" x2="325.76" y2="354.25" stroke="#2a2a2a" stroke-width="1.2" stroke-linecap="round" />
<line x1="328.16" y1="352.98" x2="330.66" y2="351.67" stroke="#2a2a2a" stroke-width="1.2" stroke-linecap="round" />
<line x1="333.06" y1="350.41" x2="335.55" y2="349.10" stroke="#2a2a2a" stroke-width="1.2" stroke-linecap="round" />
<line x1="337.95" y1="347.83" x2="340.44" y2="346.52" stroke="#2a2a2a" stroke-width="1.2" stroke-linecap="round" />
<polyline points="338.25,349.93 338.25,346.83 339.95,345.93" fill="none" stroke="#2a2a2a" stroke-width="0.8" stroke-linejoin="round" stroke-linecap="round" />
<line x1="342.84" y1="345.26" x2="345.33" y2="343.94" stroke="#2a2a2a" stroke-width="1.2" stroke-linecap="round" />
<line x1="347.73" y1="342.68" x2="350.22" y2="341.37" stroke="#2a2a2a" stroke-width="1.2" stroke-linecap="round" />
<line x1="352.62" y1="340.11" x2="355.11" y2="338.79" stroke="#2a2a2a" stroke-width="1.2" stroke-linecap="round" />
<line x1="357.51" y1="337.53" x2="360.00" y2="336.22" stroke="#2a2a2a" stroke-width="1.2" stroke-linecap="round" />
<polyline points="357.81,339.63 357.81,336.53 359.51,335.63" fill="none" stroke="#2a2a2a" stroke-width="0.8" stroke-linejoin="round" stroke-linecap="round" />
<line x1="362.40" y1="334.96" x2="364.89" y2="333.64" stroke="#2a2a2a" stroke-width="1.2" stroke-linecap="round" />
<line x1="367.29" y1="332.38" x2="369.79" y2="331.07" stroke="#2a2a2a" stroke-width="1.2" stroke-linecap="round" />
<line x1="372.19" y1="329.80" x2="374.68" y2="328.49" stroke="#2a2a2a" stroke-width="1.2" stroke-linecap="round" />
<line x1="377.08" y1="327.23" x2="379.57" y2="325.92" stroke="#2a2a2a" stroke-width="1.2" stroke-linecap="round" />
<polyline points="377.38,329.33 377.38,326.23 379.08,325.33" fill="none" stroke="#2a2a2a" stroke-width="0.8" stroke-linejoin="round" stroke-linecap="round" />
<line x1="381.97" y1="324.65" x2="384.46" y2="323.34" stroke="#2a2a2a" stroke-width="1.2" stroke-linecap="round" />
<line x1="386.86" y1="322.08" x2="389.35" y2="320.77" stroke="#2a2a2a" stroke-width="1.2" stroke-linecap="round" />
<line x1="391.75" y1="319.50" x2="394.24" y2="318.19" stroke="#2a2a2a" stroke-width="1.2" stroke-linecap="round" />
<line x1="396.64" y1="316.93" x2="399.13" y2="315.62" stroke="#2a2a2a" stroke-width="1.2" stroke-linecap="round" />
<polyline points="396.94,319.03 396.94,315.93 398.64,315.03" fill="none" stroke="#2a2a2a" stroke-width="0.8" stroke-linejoin="round" stroke-linecap="round" />
<line x1="401.53" y1="314.35" x2="404.03" y2="313.04" stroke="#2a2a2a" stroke-width="1.2" stroke-linecap="round" />
<line x1="406.43" y1="311.78" x2="408.92" y2="310.47" stroke="#2a2a2a" stroke-width="1.2" stroke-linecap="round" />
<line x1="411.32" y1="309.20" x2="413.81" y2="307.89" stroke="#2a2a2a" stroke-width="1.2" stroke-linecap="round" />
<line x1="416.21" y1="306.63" x2="418.70" y2="305.32" stroke="#2a2a2a" stroke-width="1.2" stroke-linecap="round" />
<polyline points="416.51,308.73 416.51,305.63 418.21,304.73" fill="none" stroke="#2a2a2a" stroke-width="0.8" stroke-linejoin="round" stroke-linecap="round" />
<line x1="421.10" y1="304.05" x2="423.59" y2="302.74" stroke="#2a2a2a" stroke-width="1.2" stroke-linecap="round" />
<line x1="425.99" y1="301.48" x2="428.48" y2="300.16" stroke="#2a2a2a" stroke-width="1.2" stroke-linecap="round" />
<line x1="430.88" y1="298.90" x2="433.37" y2="297.59" stroke="#2a2a2a" stroke-width="1.2" stroke-linecap="round" />
<line x1="435.77" y1="296.33" x2="438.27" y2="295.01" stroke="#2a2a2a" stroke-width="1.2" stroke-linecap="round" />
<polyline points="436.07,298.43 436.07,295.33 437.77,294.43" fill="none" stroke="#2a2a2a" stroke-width="0.8" stroke-linejoin="round" stroke-linecap="round" />
<line x1="440.67" y1="293.75" x2="443.16" y2="292.44" stroke="#2a2a2a" stroke-width="1.2" stroke-linecap="round" />
<line x1="445.56" y1="291.18" x2="448.05" y2="289.86" stroke="#2a2a2a" stroke-width="1.2" stroke-linecap="round" />
<line x1="450.45" y1="288.60" x2="452.94" y2="287.29" stroke="#2a2a2a" stroke-width="1.2" stroke-linecap="round" />
<line x1="455.34" y1="286.02" x2="457.83" y2="284.71" stroke="#2a2a2a" stroke-width="1.2" stroke-linecap="round" />
<polyline points="455.64,288.12 455.64,285.02 457.34,284.12" fill="none" stroke="#2a2a2a" stroke-width="0.8" stroke-linejoin="round" stroke-linecap="round" />
<line x1="460.23" y1="283.45" x2="462.72" y2="282.14" stroke="#2a2a2a" stroke-width="1.2" stroke-linecap="round" />
<line x1="465.12" y1="280.87" x2="467.61" y2="279.56" stroke="#2a2a2a" stroke-width="1.2" stroke-linecap="round" />
<line x1="470.01" y1="278.30" x2="472.51" y2="276.99" stroke="#2a2a2a" stroke-width="1.2" stroke-linecap="round" />
<line x1="474.91" y1="275.72" x2="477.40" y2="274.41" stroke="#2a2a2a" stroke-width="1.2" stroke-linecap="round" />
<polyline points="475.21,277.82 475.21,274.72 476.91,273.82" fill="none" stroke="#2a2a2a" stroke-width="0.8" stroke-linejoin="round" stroke-linecap="round" />
<line x1="479.80" y1="273.15" x2="482.29" y2="271.84" stroke="#2a2a2a" stroke-width="1.2" stroke-linecap="round" />
<line x1="484.69" y1="270.57" x2="487.18" y2="269.26" stroke="#2a2a2a" stroke-width="1.2" stroke-linecap="round" />
<line x1="489.58" y1="268.00" x2="492.07" y2="266.69" stroke="#2a2a2a" stroke-width="1.2" stroke-linecap="round" />
<line x1="494.47" y1="265.42" x2="496.96" y2="264.11" stroke="#2a2a2a" stroke-width="1.2" stroke-linecap="round" />
<polyline points="494.77,267.52 494.77,264.42 496.47,263.52" fill="none" stroke="#2a2a2a" stroke-width="0.8" stroke-linejoin="round" stroke-linecap="round" />
<line x1="499.36" y1="262.85" x2="501.85" y2="261.53" stroke="#2a2a2a" stroke-width="1.2" stroke-linecap="round" />
<line x1="504.25" y1="260.27" x2="506.74" y2="258.96" stroke="#2a2a2a" stroke-width="1.2" stroke-linecap="round" />
<line x1="509.14" y1="257.70" x2="511.64" y2="256.38" stroke="#2a2a2a" stroke-width="1.2" stroke-linecap="round" />
<line x1="514.04" y1="255.12" x2="516.53" y2="253.81" stroke="#2a2a2a" stroke-width="1.2" stroke-linecap="round" />
<polyline points="514.34,257.22 514.34,254.12 516.04,253.22" fill="none" stroke="#2a2a2a" stroke-width="0.8" stroke-linejoin="round" stroke-linecap="round" />
<line x1="518.93" y1="252.55" x2="521.42" y2="251.23" stroke="#2a2a2a" stroke-width="1.2" stroke-linecap="round" />
<line x1="523.82" y1="249.97" x2="526.31" y2="248.66" stroke="#2a2a2a" stroke-width="1.2" stroke-linecap="round" />
<line x1="528.71" y1="247.39" x2="531.20" y2="246.08" stroke="#2a2a2a" stroke-width="1.2" stroke-linecap="round" />
<line x1="533.60" y1="244.82" x2="536.09" y2="243.51" stroke="#2a2a2a" stroke-width="1.2" stroke-linecap="round" />
<polyline points="533.90,246.92 533.90,243.82 535.60,242.92" fill="none" stroke="#2a2a2a" stroke-width="0.8" stroke-linejoin="round" stroke-linecap="round" />
</g>
<g id="labels">
<text x="356.80" y="156.92" font-size="8.60" textLength="221.70" lengthAdjust="spacingAndGlyphs">• Kratka poprzeczna zwijana (buk lub dąb olejowany,</text>
<text x="361.80" y="168.72" font-size="8.60" textLength="239.00" lengthAdjust="spacingAndGlyphs">surowy lub lakierowany, duraluminium, stal nierdzewna)</text>
<text x="361.80" y="180.02" font-size="8.60" textLength="12.00" lengthAdjust="spacingAndGlyphs">lub</text>
<text x="356.80" y="191.72" font-size="8.60" textLength="212.70" lengthAdjust="spacingAndGlyphs">• kratka podłużna (duraluminium, stal nierdzewna)</text>
<line x1="364.90" y1="270.50" x2="364.90" y2="303.60" stroke="#fff" stroke-width="2.4" stroke-linecap="round" stroke-linecap="butt"/>
<polyline points="366.50,204.30 366.50,303.50" fill="none" stroke="#8a2942" stroke-width="1.0" stroke-linejoin="round" stroke-linecap="round" /><circle cx="366.50" cy="204.30" r="2.1" fill="#5e1630"/>
<text x="128.80" y="303.72" font-size="8.60" textLength="127.80" lengthAdjust="spacingAndGlyphs">Blacha maskująca podłączenie</text>
<text x="128.80" y="313.42" font-size="8.60" textLength="66.50" lengthAdjust="spacingAndGlyphs">do instalacji c.o.</text>
<line x1="256.20" y1="330.00" x2="256.20" y2="407.50" stroke="#fff" stroke-width="1.8" stroke-linecap="round" stroke-linecap="butt"/>
<polyline points="254.70,314.40 254.70,412.80" fill="none" stroke="#8a2942" stroke-width="1.0" stroke-linejoin="round" stroke-linecap="round" /><circle cx="254.70" cy="314.40" r="2.1" fill="#5e1630"/>
<text x="105.40" y="458.42" font-size="8.60" textLength="60.50" lengthAdjust="spacingAndGlyphs">Odpowietrznik</text>
<polyline points="178.30,454.80 278.20,454.80" fill="none" stroke="#8a2942" stroke-width="1.0" stroke-linejoin="round" stroke-linecap="round" /><circle cx="178.30" cy="454.80" r="2.1" fill="#5e1630"/>
<text x="84.20" y="504.12" font-size="8.60" textLength="41.80" lengthAdjust="spacingAndGlyphs">Przepusty</text>
<text x="84.20" y="513.72" font-size="8.60" textLength="63.80" lengthAdjust="spacingAndGlyphs">przyłączeniowe</text>
<text x="84.20" y="523.32" font-size="8.60" textLength="64.30" lengthAdjust="spacingAndGlyphs">do instalacji c.o.</text>
<text x="84.20" y="532.52" font-size="8.60" textLength="64.30" lengthAdjust="spacingAndGlyphs">(do wyłamania)</text>
<polyline points="139.80,499.60 237.50,499.60" fill="none" stroke="#8a2942" stroke-width="1.0" stroke-linejoin="round" stroke-linecap="round" /><circle cx="139.80" cy="499.60" r="2.1" fill="#5e1630"/>
<text x="147.60" y="618.62" font-size="8.60" textLength="81.80" lengthAdjust="spacingAndGlyphs">Gumowe przepusty</text>
<text x="147.60" y="628.72" font-size="8.60" textLength="61.90" lengthAdjust="spacingAndGlyphs">do podłączenia</text>
<text x="147.60" y="638.12" font-size="8.60" textLength="89.30" lengthAdjust="spacingAndGlyphs">instalacji elektrycznej</text>
<polyline points="238.60,615.50 238.60,516.50" fill="none" stroke="#8a2942" stroke-width="1.0" stroke-linejoin="round" stroke-linecap="round" /><circle cx="238.60" cy="615.50" r="2.1" fill="#5e1630"/>
<text x="305.50" y="623.92" font-size="8.60" textLength="80.50" lengthAdjust="spacingAndGlyphs">Wanna konwektora</text>
<text x="305.50" y="633.12" font-size="8.60" textLength="111.40" lengthAdjust="spacingAndGlyphs">(obustronnie ocynkowana,</text>
<text x="305.50" y="642.62" font-size="8.60" textLength="87.00" lengthAdjust="spacingAndGlyphs">blacha lakierowana )</text>
<polyline points="294.40,620.80 294.40,524.00" fill="none" stroke="#8a2942" stroke-width="1.0" stroke-linejoin="round" stroke-linecap="round" /><circle cx="294.40" cy="620.80" r="2.1" fill="#5e1630"/>
<text x="432.80" y="505.62" font-size="8.60" textLength="72.10" lengthAdjust="spacingAndGlyphs">Kotwy do betonu</text>
<polyline points="422.40,502.50 324.80,502.50" fill="none" stroke="#8a2942" stroke-width="1.0" stroke-linejoin="round" stroke-linecap="round" /><circle cx="422.40" cy="502.50" r="2.1" fill="#5e1630"/>
<text x="544.80" y="416.92" font-size="8.60" textLength="74.80" lengthAdjust="spacingAndGlyphs">Wymiennik ciepła</text>
<text x="544.80" y="426.62" font-size="8.60" textLength="100.80" lengthAdjust="spacingAndGlyphs">(rurki miedziane, lamele</text>
<text x="544.80" y="436.42" font-size="8.60" textLength="114.20" lengthAdjust="spacingAndGlyphs">aluminiowe, całość pokryta</text>
<text x="544.80" y="446.12" font-size="8.60" textLength="77.20" lengthAdjust="spacingAndGlyphs">czarnym lakierem)</text>
<polyline points="537.40,413.80 411.50,413.80" fill="none" stroke="#8a2942" stroke-width="1.0" stroke-linejoin="round" stroke-linecap="round" /><circle cx="537.40" cy="413.80" r="2.1" fill="#5e1630"/>
<text x="643.00" y="333.32" font-size="8.60" textLength="86.00" lengthAdjust="spacingAndGlyphs">Blacha konwencyjna</text>
<text x="643.00" y="343.42" font-size="8.60" textLength="68.00" lengthAdjust="spacingAndGlyphs">(dla zwiększenia</text>
<text x="643.00" y="353.52" font-size="8.60" textLength="59.00" lengthAdjust="spacingAndGlyphs">mocy cieplnej</text>
<text x="643.00" y="363.12" font-size="8.60" textLength="71.50" lengthAdjust="spacingAndGlyphs">i bezpieczeństwa</text>
<text x="643.00" y="373.12" font-size="8.60" textLength="55.00" lengthAdjust="spacingAndGlyphs">użytkowania)</text>
<polyline points="631.00,330.20 532.50,330.20" fill="none" stroke="#8a2942" stroke-width="1.0" stroke-linejoin="round" stroke-linecap="round" /><circle cx="631.00" cy="330.20" r="2.1" fill="#5e1630"/>
</g>
</svg>
</body></html>
